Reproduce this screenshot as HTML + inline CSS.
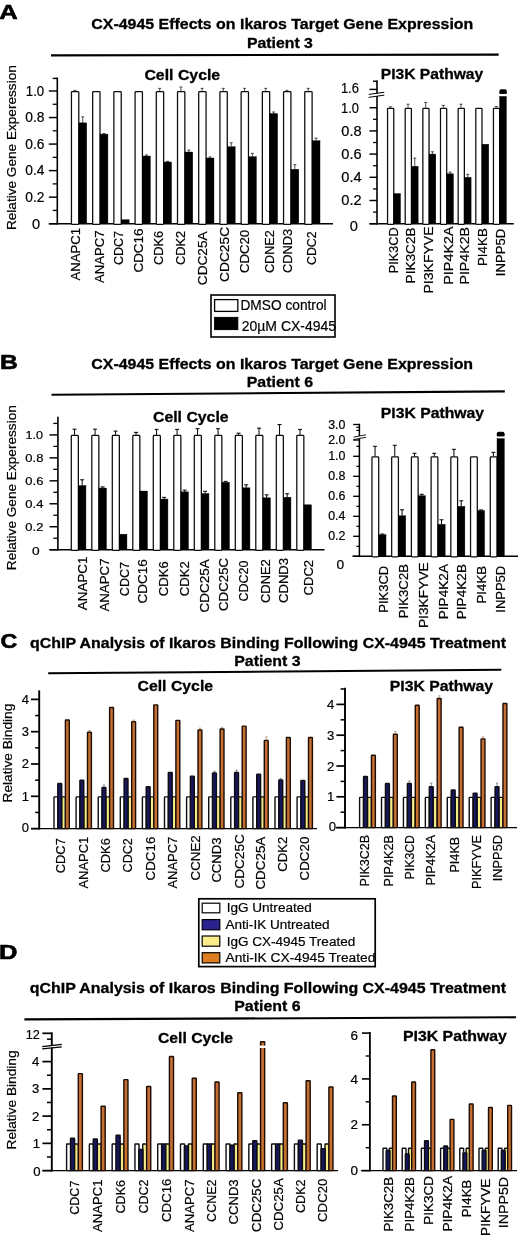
<!DOCTYPE html>
<html lang="en"><head><meta charset="utf-8"><title>CX-4945 Effects on Ikaros Target Gene Expression</title>
<style>
html,body{margin:0;padding:0;background:#fff;}
body{width:520px;height:1237px;overflow:hidden;}
svg{display:block;will-change:transform;}
svg text{font-family:'Liberation Sans', sans-serif;stroke:#000;stroke-width:0.2px;}
</style></head><body>
<svg width="520" height="1237" viewBox="0 0 520 1237">
<defs><filter id="soft" x="0" y="0" width="100%" height="100%" filterUnits="objectBoundingBox"><feGaussianBlur stdDeviation="0.45"/></filter></defs>
<g filter="url(#soft)">
<rect x="0" y="0" width="520" height="1237" fill="#fff"/>
<text x="-0.8" y="18.8" font-size="19.33" font-weight="bold" style="stroke-width:0.6px" textLength="18.47" lengthAdjust="spacingAndGlyphs" fill="#000">A</text>
<text x="-0.12" y="368.5" font-size="20.35" font-weight="bold" style="stroke-width:0.6px" textLength="17.83" lengthAdjust="spacingAndGlyphs" fill="#000">B</text>
<text x="0.6" y="648.2" font-size="20.64" font-weight="bold" style="stroke-width:0.6px" textLength="16.83" lengthAdjust="spacingAndGlyphs" fill="#000">C</text>
<text x="-1.02" y="959" font-size="20.35" font-weight="bold" style="stroke-width:0.6px" textLength="18.43" lengthAdjust="spacingAndGlyphs" fill="#000">D</text>
<text x="91.3" y="29.4" font-size="14.6" font-weight="bold" style="stroke-width:0.3px" textLength="381.98" lengthAdjust="spacingAndGlyphs" fill="#000">CX-4945 Effects on Ikaros Target Gene Expression</text>
<text x="246.95" y="48" font-size="14.9" font-weight="bold" style="stroke-width:0.3px" textLength="65.94" lengthAdjust="spacingAndGlyphs" fill="#000">Patient 3</text>
<line x1="51" y1="55.4" x2="498.7" y2="54.6" stroke="#000" stroke-width="2.1" stroke-linecap="butt"/>
<line x1="57.3" y1="77.6" x2="57.3" y2="224.5" stroke="#000" stroke-width="1.6" stroke-linecap="butt"/>
<line x1="48.8" y1="223.7" x2="57.3" y2="223.7" stroke="#000" stroke-width="1.44" stroke-linecap="butt"/>
<line x1="48.8" y1="197.16" x2="57.3" y2="197.16" stroke="#000" stroke-width="1.44" stroke-linecap="butt"/>
<line x1="48.8" y1="170.62" x2="57.3" y2="170.62" stroke="#000" stroke-width="1.44" stroke-linecap="butt"/>
<line x1="48.8" y1="144.08" x2="57.3" y2="144.08" stroke="#000" stroke-width="1.44" stroke-linecap="butt"/>
<line x1="48.8" y1="117.54" x2="57.3" y2="117.54" stroke="#000" stroke-width="1.44" stroke-linecap="butt"/>
<line x1="48.8" y1="91" x2="57.3" y2="91" stroke="#000" stroke-width="1.44" stroke-linecap="butt"/>
<line x1="52.7" y1="210.43" x2="57.3" y2="210.43" stroke="#000" stroke-width="1.28" stroke-linecap="butt"/>
<line x1="52.7" y1="183.89" x2="57.3" y2="183.89" stroke="#000" stroke-width="1.28" stroke-linecap="butt"/>
<line x1="52.7" y1="157.35" x2="57.3" y2="157.35" stroke="#000" stroke-width="1.28" stroke-linecap="butt"/>
<line x1="52.7" y1="130.81" x2="57.3" y2="130.81" stroke="#000" stroke-width="1.28" stroke-linecap="butt"/>
<line x1="52.7" y1="104.27" x2="57.3" y2="104.27" stroke="#000" stroke-width="1.28" stroke-linecap="butt"/>
<line x1="52.7" y1="78.4" x2="57.3" y2="78.4" stroke="#000" stroke-width="1.44" stroke-linecap="butt"/>
<line x1="49" y1="223.7" x2="333" y2="223.7" stroke="#000" stroke-width="1.4" stroke-linecap="butt"/>
<text x="32" y="228.5" font-size="13.95" textLength="8.16" lengthAdjust="spacingAndGlyphs" fill="#000">0</text>
<text x="25.3" y="201.96" font-size="13.95" textLength="19.16" lengthAdjust="spacingAndGlyphs" fill="#000">0.2</text>
<text x="25.3" y="175.42" font-size="13.95" textLength="19.16" lengthAdjust="spacingAndGlyphs" fill="#000">0.4</text>
<text x="25.3" y="148.88" font-size="13.95" textLength="19.16" lengthAdjust="spacingAndGlyphs" fill="#000">0.6</text>
<text x="25.3" y="122.34" font-size="13.95" textLength="19.16" lengthAdjust="spacingAndGlyphs" fill="#000">0.8</text>
<text x="25.8" y="95.8" font-size="13.95" textLength="18.35" lengthAdjust="spacingAndGlyphs" fill="#000">1.0</text>
<text transform="translate(15.94 230.1) rotate(-90) scale(1 0.97)" font-size="13.6" textLength="164.9" lengthAdjust="spacingAndGlyphs">Relative Gene Experession</text>
<text x="144.4" y="80.2" font-size="15.1" font-weight="bold" style="stroke-width:0.3px" textLength="75.8" lengthAdjust="spacingAndGlyphs" fill="#000">Cell Cycle</text>
<line x1="74.85" y1="90.34" x2="74.85" y2="91" stroke="#222" stroke-width="0.8" stroke-linecap="butt"/>
<line x1="73.35" y1="90.34" x2="76.35" y2="90.34" stroke="#222" stroke-width="0.8" stroke-linecap="butt"/>
<line x1="82.75" y1="116.88" x2="82.75" y2="122.85" stroke="#222" stroke-width="0.8" stroke-linecap="butt"/>
<line x1="81.25" y1="116.88" x2="84.25" y2="116.88" stroke="#222" stroke-width="0.8" stroke-linecap="butt"/>
<rect x="71.45" y="91.55" width="7.35" height="132.75" rx="0.8" fill="#fff" stroke="#0a0a0a" stroke-width="1.25"/>
<rect x="78.8" y="122.85" width="7.9" height="100.85" fill="#000" stroke="#000" stroke-width="0.4"/>
<line x1="103.96" y1="133.46" x2="103.96" y2="134.13" stroke="#222" stroke-width="0.8" stroke-linecap="butt"/>
<line x1="102.46" y1="133.46" x2="105.46" y2="133.46" stroke="#222" stroke-width="0.8" stroke-linecap="butt"/>
<rect x="92.66" y="91.55" width="7.35" height="132.75" rx="0.8" fill="#fff" stroke="#0a0a0a" stroke-width="1.25"/>
<rect x="100.01" y="134.13" width="7.9" height="89.57" fill="#000" stroke="#000" stroke-width="0.4"/>
<rect x="113.87" y="91.55" width="7.35" height="132.75" rx="0.8" fill="#fff" stroke="#0a0a0a" stroke-width="1.25"/>
<rect x="121.22" y="219.72" width="7.9" height="3.98" fill="#000" stroke="#000" stroke-width="0.4"/>
<line x1="146.38" y1="154.96" x2="146.38" y2="156.02" stroke="#222" stroke-width="0.8" stroke-linecap="butt"/>
<line x1="144.88" y1="154.96" x2="147.88" y2="154.96" stroke="#222" stroke-width="0.8" stroke-linecap="butt"/>
<rect x="135.08" y="91.55" width="7.35" height="132.75" rx="0.8" fill="#fff" stroke="#0a0a0a" stroke-width="1.25"/>
<rect x="142.43" y="156.02" width="7.9" height="67.68" fill="#000" stroke="#000" stroke-width="0.4"/>
<line x1="159.69" y1="88.35" x2="159.69" y2="91" stroke="#222" stroke-width="0.8" stroke-linecap="butt"/>
<line x1="158.19" y1="88.35" x2="161.19" y2="88.35" stroke="#222" stroke-width="0.8" stroke-linecap="butt"/>
<line x1="167.59" y1="161.33" x2="167.59" y2="161.99" stroke="#222" stroke-width="0.8" stroke-linecap="butt"/>
<line x1="166.09" y1="161.33" x2="169.09" y2="161.33" stroke="#222" stroke-width="0.8" stroke-linecap="butt"/>
<rect x="156.29" y="91.55" width="7.35" height="132.75" rx="0.8" fill="#fff" stroke="#0a0a0a" stroke-width="1.25"/>
<rect x="163.64" y="161.99" width="7.9" height="61.71" fill="#000" stroke="#000" stroke-width="0.4"/>
<line x1="180.9" y1="87.02" x2="180.9" y2="91" stroke="#222" stroke-width="0.8" stroke-linecap="butt"/>
<line x1="179.4" y1="87.02" x2="182.4" y2="87.02" stroke="#222" stroke-width="0.8" stroke-linecap="butt"/>
<line x1="188.8" y1="150.05" x2="188.8" y2="152.04" stroke="#222" stroke-width="0.8" stroke-linecap="butt"/>
<line x1="187.3" y1="150.05" x2="190.3" y2="150.05" stroke="#222" stroke-width="0.8" stroke-linecap="butt"/>
<rect x="177.5" y="91.55" width="7.35" height="132.75" rx="0.8" fill="#fff" stroke="#0a0a0a" stroke-width="1.25"/>
<rect x="184.85" y="152.04" width="7.9" height="71.66" fill="#000" stroke="#000" stroke-width="0.4"/>
<line x1="202.11" y1="88.35" x2="202.11" y2="91" stroke="#222" stroke-width="0.8" stroke-linecap="butt"/>
<line x1="200.61" y1="88.35" x2="203.61" y2="88.35" stroke="#222" stroke-width="0.8" stroke-linecap="butt"/>
<line x1="210.01" y1="156.95" x2="210.01" y2="158.01" stroke="#222" stroke-width="0.8" stroke-linecap="butt"/>
<line x1="208.51" y1="156.95" x2="211.51" y2="156.95" stroke="#222" stroke-width="0.8" stroke-linecap="butt"/>
<rect x="198.71" y="91.55" width="7.35" height="132.75" rx="0.8" fill="#fff" stroke="#0a0a0a" stroke-width="1.25"/>
<rect x="206.06" y="158.01" width="7.9" height="65.69" fill="#000" stroke="#000" stroke-width="0.4"/>
<line x1="223.32" y1="88.35" x2="223.32" y2="91" stroke="#222" stroke-width="0.8" stroke-linecap="butt"/>
<line x1="221.82" y1="88.35" x2="224.82" y2="88.35" stroke="#222" stroke-width="0.8" stroke-linecap="butt"/>
<line x1="231.22" y1="142.75" x2="231.22" y2="146.73" stroke="#222" stroke-width="0.8" stroke-linecap="butt"/>
<line x1="229.72" y1="142.75" x2="232.72" y2="142.75" stroke="#222" stroke-width="0.8" stroke-linecap="butt"/>
<rect x="219.92" y="91.55" width="7.35" height="132.75" rx="0.8" fill="#fff" stroke="#0a0a0a" stroke-width="1.25"/>
<rect x="227.27" y="146.73" width="7.9" height="76.97" fill="#000" stroke="#000" stroke-width="0.4"/>
<line x1="244.53" y1="88.35" x2="244.53" y2="91" stroke="#222" stroke-width="0.8" stroke-linecap="butt"/>
<line x1="243.03" y1="88.35" x2="246.03" y2="88.35" stroke="#222" stroke-width="0.8" stroke-linecap="butt"/>
<line x1="252.43" y1="153.37" x2="252.43" y2="156.69" stroke="#222" stroke-width="0.8" stroke-linecap="butt"/>
<line x1="250.93" y1="153.37" x2="253.93" y2="153.37" stroke="#222" stroke-width="0.8" stroke-linecap="butt"/>
<rect x="241.13" y="91.55" width="7.35" height="132.75" rx="0.8" fill="#fff" stroke="#0a0a0a" stroke-width="1.25"/>
<rect x="248.48" y="156.69" width="7.9" height="67.01" fill="#000" stroke="#000" stroke-width="0.4"/>
<line x1="265.74" y1="88.35" x2="265.74" y2="91" stroke="#222" stroke-width="0.8" stroke-linecap="butt"/>
<line x1="264.24" y1="88.35" x2="267.24" y2="88.35" stroke="#222" stroke-width="0.8" stroke-linecap="butt"/>
<line x1="273.64" y1="111.97" x2="273.64" y2="113.56" stroke="#222" stroke-width="0.8" stroke-linecap="butt"/>
<line x1="272.14" y1="111.97" x2="275.14" y2="111.97" stroke="#222" stroke-width="0.8" stroke-linecap="butt"/>
<rect x="262.34" y="91.55" width="7.35" height="132.75" rx="0.8" fill="#fff" stroke="#0a0a0a" stroke-width="1.25"/>
<rect x="269.69" y="113.56" width="7.9" height="110.14" fill="#000" stroke="#000" stroke-width="0.4"/>
<line x1="286.95" y1="90.34" x2="286.95" y2="91" stroke="#222" stroke-width="0.8" stroke-linecap="butt"/>
<line x1="285.45" y1="90.34" x2="288.45" y2="90.34" stroke="#222" stroke-width="0.8" stroke-linecap="butt"/>
<line x1="294.85" y1="164.65" x2="294.85" y2="169.29" stroke="#222" stroke-width="0.8" stroke-linecap="butt"/>
<line x1="293.35" y1="164.65" x2="296.35" y2="164.65" stroke="#222" stroke-width="0.8" stroke-linecap="butt"/>
<rect x="283.55" y="91.55" width="7.35" height="132.75" rx="0.8" fill="#fff" stroke="#0a0a0a" stroke-width="1.25"/>
<rect x="290.9" y="169.29" width="7.9" height="54.41" fill="#000" stroke="#000" stroke-width="0.4"/>
<line x1="308.16" y1="88.35" x2="308.16" y2="91" stroke="#222" stroke-width="0.8" stroke-linecap="butt"/>
<line x1="306.66" y1="88.35" x2="309.66" y2="88.35" stroke="#222" stroke-width="0.8" stroke-linecap="butt"/>
<line x1="316.06" y1="138.11" x2="316.06" y2="140.76" stroke="#222" stroke-width="0.8" stroke-linecap="butt"/>
<line x1="314.56" y1="138.11" x2="317.56" y2="138.11" stroke="#222" stroke-width="0.8" stroke-linecap="butt"/>
<rect x="304.76" y="91.55" width="7.35" height="132.75" rx="0.8" fill="#fff" stroke="#0a0a0a" stroke-width="1.25"/>
<rect x="312.11" y="140.76" width="7.9" height="82.94" fill="#000" stroke="#000" stroke-width="0.4"/>
<text transform="translate(80.39 280.4) rotate(-90) scale(1 1.04)" font-size="13.1" textLength="52.4" lengthAdjust="spacingAndGlyphs">ANAPC1</text>
<text transform="translate(104.09 282.9) rotate(-90) scale(1 1.04)" font-size="13.1" textLength="52.5" lengthAdjust="spacingAndGlyphs">ANAPC7</text>
<text transform="translate(122.99 265.1) rotate(-90) scale(1 1.04)" font-size="13.1" textLength="34.2" lengthAdjust="spacingAndGlyphs">CDC7</text>
<text transform="translate(142.69 272.6) rotate(-90) scale(1 1.04)" font-size="13.1" textLength="44.2" lengthAdjust="spacingAndGlyphs">CDC16</text>
<text transform="translate(162.69 265.1) rotate(-90) scale(1 1.04)" font-size="13.1" textLength="34.2" lengthAdjust="spacingAndGlyphs">CDK6</text>
<text transform="translate(185.19 265.1) rotate(-90) scale(1 1.04)" font-size="13.1" textLength="34.2" lengthAdjust="spacingAndGlyphs">CDK2</text>
<text transform="translate(207.49 285.2) rotate(-90) scale(1 1.04)" font-size="13.1" textLength="53.8" lengthAdjust="spacingAndGlyphs">CDC25A</text>
<text transform="translate(228.99 282) rotate(-90) scale(1 1.04)" font-size="13.1" textLength="55.1" lengthAdjust="spacingAndGlyphs">CDC25C</text>
<text transform="translate(249.49 273.1) rotate(-90) scale(1 1.04)" font-size="13.1" textLength="43.3" lengthAdjust="spacingAndGlyphs">CDC20</text>
<text transform="translate(273.69 273.1) rotate(-90) scale(1 1.04)" font-size="13.1" textLength="42.9" lengthAdjust="spacingAndGlyphs">CDNE2</text>
<text transform="translate(291.99 273.1) rotate(-90) scale(1 1.04)" font-size="13.1" textLength="44.3" lengthAdjust="spacingAndGlyphs">CDND3</text>
<text transform="translate(315.69 265) rotate(-90) scale(1 1.04)" font-size="13.1" textLength="33.6" lengthAdjust="spacingAndGlyphs">CDC2</text>
<line x1="377" y1="80.4" x2="377" y2="224.5" stroke="#000" stroke-width="1.6" stroke-linecap="butt"/>
<line x1="369.5" y1="223.7" x2="377" y2="223.7" stroke="#000" stroke-width="1.44" stroke-linecap="butt"/>
<line x1="369.5" y1="200.5" x2="377" y2="200.5" stroke="#000" stroke-width="1.44" stroke-linecap="butt"/>
<line x1="369.5" y1="177.3" x2="377" y2="177.3" stroke="#000" stroke-width="1.44" stroke-linecap="butt"/>
<line x1="369.5" y1="154.1" x2="377" y2="154.1" stroke="#000" stroke-width="1.44" stroke-linecap="butt"/>
<line x1="369.5" y1="130.9" x2="377" y2="130.9" stroke="#000" stroke-width="1.44" stroke-linecap="butt"/>
<line x1="369.5" y1="107.7" x2="377" y2="107.7" stroke="#000" stroke-width="1.44" stroke-linecap="butt"/>
<line x1="369.5" y1="89.4" x2="377" y2="89.4" stroke="#000" stroke-width="1.44" stroke-linecap="butt"/>
<line x1="373" y1="212.1" x2="377" y2="212.1" stroke="#000" stroke-width="1.28" stroke-linecap="butt"/>
<line x1="373" y1="188.9" x2="377" y2="188.9" stroke="#000" stroke-width="1.28" stroke-linecap="butt"/>
<line x1="373" y1="165.7" x2="377" y2="165.7" stroke="#000" stroke-width="1.28" stroke-linecap="butt"/>
<line x1="373" y1="142.5" x2="377" y2="142.5" stroke="#000" stroke-width="1.28" stroke-linecap="butt"/>
<line x1="373" y1="119.3" x2="377" y2="119.3" stroke="#000" stroke-width="1.28" stroke-linecap="butt"/>
<line x1="373" y1="81.2" x2="377" y2="81.2" stroke="#000" stroke-width="1.44" stroke-linecap="butt"/>
<line x1="369.5" y1="223.7" x2="513.8" y2="223.7" stroke="#000" stroke-width="1.4" stroke-linecap="butt"/>
<rect x="374.5" y="93.55" width="4" height="2.5" fill="#fff"/>
<line x1="368.7" y1="94.45" x2="384.3" y2="92.25" stroke="#000" stroke-width="1" stroke-linecap="butt"/>
<line x1="368.7" y1="97.35" x2="384.3" y2="95.15" stroke="#000" stroke-width="1" stroke-linecap="butt"/>
<text x="349.89" y="230.6" font-size="14.24" textLength="8.18" lengthAdjust="spacingAndGlyphs" fill="#000">0</text>
<text x="341.29" y="205.4" font-size="14.24" textLength="20.28" lengthAdjust="spacingAndGlyphs" fill="#000">0.2</text>
<text x="341.29" y="182.2" font-size="14.24" textLength="20.28" lengthAdjust="spacingAndGlyphs" fill="#000">0.4</text>
<text x="341.29" y="159" font-size="14.24" textLength="20.28" lengthAdjust="spacingAndGlyphs" fill="#000">0.6</text>
<text x="341.29" y="135.8" font-size="14.24" textLength="20.28" lengthAdjust="spacingAndGlyphs" fill="#000">0.8</text>
<text x="341.08" y="112.6" font-size="14.24" textLength="17.89" lengthAdjust="spacingAndGlyphs" fill="#000">1.0</text>
<text x="340.9" y="93.2" font-size="13.95" textLength="18.05" lengthAdjust="spacingAndGlyphs" fill="#000">1.6</text>
<text x="380.75" y="79.2" font-size="15.1" font-weight="bold" style="stroke-width:0.3px" textLength="102.46" lengthAdjust="spacingAndGlyphs" fill="#000">PI3K Pathway</text>
<line x1="390.38" y1="106.77" x2="390.38" y2="107.7" stroke="#222" stroke-width="0.8" stroke-linecap="butt"/>
<line x1="388.88" y1="106.77" x2="391.88" y2="106.77" stroke="#222" stroke-width="0.8" stroke-linecap="butt"/>
<rect x="387.55" y="108.25" width="6.2" height="116.05" rx="0.8" fill="#fff" stroke="#0a0a0a" stroke-width="1.25"/>
<rect x="393.75" y="193.54" width="6.75" height="30.16" fill="#000" stroke="#000" stroke-width="0.4"/>
<line x1="408.02" y1="104.22" x2="408.02" y2="107.7" stroke="#222" stroke-width="0.8" stroke-linecap="butt"/>
<line x1="406.52" y1="104.22" x2="409.52" y2="104.22" stroke="#222" stroke-width="0.8" stroke-linecap="butt"/>
<line x1="414.77" y1="158.16" x2="414.77" y2="166.28" stroke="#222" stroke-width="0.8" stroke-linecap="butt"/>
<line x1="413.27" y1="158.16" x2="416.27" y2="158.16" stroke="#222" stroke-width="0.8" stroke-linecap="butt"/>
<rect x="405.2" y="108.25" width="6.2" height="116.05" rx="0.8" fill="#fff" stroke="#0a0a0a" stroke-width="1.25"/>
<rect x="411.4" y="166.28" width="6.75" height="57.42" fill="#000" stroke="#000" stroke-width="0.4"/>
<line x1="425.68" y1="102.48" x2="425.68" y2="107.7" stroke="#222" stroke-width="0.8" stroke-linecap="butt"/>
<line x1="424.18" y1="102.48" x2="427.18" y2="102.48" stroke="#222" stroke-width="0.8" stroke-linecap="butt"/>
<line x1="432.43" y1="151.78" x2="432.43" y2="154.1" stroke="#222" stroke-width="0.8" stroke-linecap="butt"/>
<line x1="430.93" y1="151.78" x2="433.93" y2="151.78" stroke="#222" stroke-width="0.8" stroke-linecap="butt"/>
<rect x="422.85" y="108.25" width="6.2" height="116.05" rx="0.8" fill="#fff" stroke="#0a0a0a" stroke-width="1.25"/>
<rect x="429.05" y="154.1" width="6.75" height="69.6" fill="#000" stroke="#000" stroke-width="0.4"/>
<line x1="443.32" y1="105.38" x2="443.32" y2="107.7" stroke="#222" stroke-width="0.8" stroke-linecap="butt"/>
<line x1="441.82" y1="105.38" x2="444.82" y2="105.38" stroke="#222" stroke-width="0.8" stroke-linecap="butt"/>
<line x1="450.07" y1="172.08" x2="450.07" y2="173.82" stroke="#222" stroke-width="0.8" stroke-linecap="butt"/>
<line x1="448.57" y1="172.08" x2="451.57" y2="172.08" stroke="#222" stroke-width="0.8" stroke-linecap="butt"/>
<rect x="440.5" y="108.25" width="6.2" height="116.05" rx="0.8" fill="#fff" stroke="#0a0a0a" stroke-width="1.25"/>
<rect x="446.7" y="173.82" width="6.75" height="49.88" fill="#000" stroke="#000" stroke-width="0.4"/>
<line x1="460.98" y1="104.22" x2="460.98" y2="107.7" stroke="#222" stroke-width="0.8" stroke-linecap="butt"/>
<line x1="459.48" y1="104.22" x2="462.48" y2="104.22" stroke="#222" stroke-width="0.8" stroke-linecap="butt"/>
<line x1="467.73" y1="174.4" x2="467.73" y2="177.3" stroke="#222" stroke-width="0.8" stroke-linecap="butt"/>
<line x1="466.23" y1="174.4" x2="469.23" y2="174.4" stroke="#222" stroke-width="0.8" stroke-linecap="butt"/>
<rect x="458.15" y="108.25" width="6.2" height="116.05" rx="0.8" fill="#fff" stroke="#0a0a0a" stroke-width="1.25"/>
<rect x="464.35" y="177.3" width="6.75" height="46.4" fill="#000" stroke="#000" stroke-width="0.4"/>
<rect x="475.8" y="108.25" width="6.2" height="116.05" rx="0.8" fill="#fff" stroke="#0a0a0a" stroke-width="1.25"/>
<rect x="482" y="144.24" width="6.75" height="79.46" fill="#000" stroke="#000" stroke-width="0.4"/>
<line x1="496.27" y1="106.54" x2="496.27" y2="107.7" stroke="#222" stroke-width="0.8" stroke-linecap="butt"/>
<line x1="494.77" y1="106.54" x2="497.77" y2="106.54" stroke="#222" stroke-width="0.8" stroke-linecap="butt"/>
<rect x="493.45" y="108.25" width="6.2" height="116.05" rx="0.8" fill="#fff" stroke="#0a0a0a" stroke-width="1.25"/>
<rect x="499.65" y="96.4" width="6.75" height="127.3" fill="#000" stroke="#000" stroke-width="0.4"/>
<rect x="499.5" y="89.3" width="7.2" height="4.5" rx="1.6" fill="#000"/>
<rect x="499.5" y="91.5" width="7.2" height="2.3" fill="#000"/>
<text transform="translate(398.19 273.3) rotate(-90) scale(1 1.04)" font-size="13.1" textLength="45.9" lengthAdjust="spacingAndGlyphs">PIK3CD</text>
<text transform="translate(414.69 283.4) rotate(-90) scale(1 1.04)" font-size="13.1" textLength="56" lengthAdjust="spacingAndGlyphs">PIK3C2B</text>
<text transform="translate(433.39 293.5) rotate(-90) scale(1 1.04)" font-size="13.1" textLength="67.1" lengthAdjust="spacingAndGlyphs">PI3KFYVE</text>
<text transform="translate(453.29 284.8) rotate(-90) scale(1 1.04)" font-size="13.1" textLength="58.4" lengthAdjust="spacingAndGlyphs">PIP4K2A</text>
<text transform="translate(469.19 284.6) rotate(-90) scale(1 1.04)" font-size="13.1" textLength="57.7" lengthAdjust="spacingAndGlyphs">PIP4K2B</text>
<text transform="translate(486.69 266.1) rotate(-90) scale(1 1.04)" font-size="13.1" textLength="37.9" lengthAdjust="spacingAndGlyphs">PI4KB</text>
<text transform="translate(504.89 276.2) rotate(-90) scale(1 1.04)" font-size="13.1" textLength="47.4" lengthAdjust="spacingAndGlyphs">INPP5D</text>
<rect x="211" y="295" width="124" height="42" fill="#fff" stroke="#000" stroke-width="1.6"/>
<rect x="214.6" y="299.6" width="23.2" height="11.8" fill="#fff" stroke="#000" stroke-width="1.3"/>
<rect x="214.6" y="317.4" width="23.2" height="12.2" fill="#000" stroke="#000" stroke-width="1"/>
<text x="240.47" y="310.3" font-size="14.53" textLength="86.11" lengthAdjust="spacingAndGlyphs" fill="#000">DMSO control</text>
<text x="241.69" y="331" font-size="14.24" textLength="94.48" lengthAdjust="spacingAndGlyphs" fill="#000">20µM CX-4945</text>
<text x="91.3" y="368.8" font-size="14.6" font-weight="bold" style="stroke-width:0.3px" textLength="381.78" lengthAdjust="spacingAndGlyphs" fill="#000">CX-4945 Effects on Ikaros Target Gene Expression</text>
<text x="246.75" y="387.1" font-size="14.9" font-weight="bold" style="stroke-width:0.3px" textLength="66.34" lengthAdjust="spacingAndGlyphs" fill="#000">Patient 6</text>
<line x1="51.5" y1="394.8" x2="504.8" y2="391.4" stroke="#000" stroke-width="2.1" stroke-linecap="butt"/>
<line x1="57.9" y1="416.7" x2="57.9" y2="550.5" stroke="#000" stroke-width="1.6" stroke-linecap="butt"/>
<line x1="49.5" y1="549.7" x2="57.9" y2="549.7" stroke="#000" stroke-width="1.44" stroke-linecap="butt"/>
<line x1="49.5" y1="526.74" x2="57.9" y2="526.74" stroke="#000" stroke-width="1.44" stroke-linecap="butt"/>
<line x1="49.5" y1="503.78" x2="57.9" y2="503.78" stroke="#000" stroke-width="1.44" stroke-linecap="butt"/>
<line x1="49.5" y1="480.82" x2="57.9" y2="480.82" stroke="#000" stroke-width="1.44" stroke-linecap="butt"/>
<line x1="49.5" y1="457.86" x2="57.9" y2="457.86" stroke="#000" stroke-width="1.44" stroke-linecap="butt"/>
<line x1="49.5" y1="434.9" x2="57.9" y2="434.9" stroke="#000" stroke-width="1.44" stroke-linecap="butt"/>
<line x1="53.3" y1="538.22" x2="57.9" y2="538.22" stroke="#000" stroke-width="1.28" stroke-linecap="butt"/>
<line x1="53.3" y1="515.26" x2="57.9" y2="515.26" stroke="#000" stroke-width="1.28" stroke-linecap="butt"/>
<line x1="53.3" y1="492.3" x2="57.9" y2="492.3" stroke="#000" stroke-width="1.28" stroke-linecap="butt"/>
<line x1="53.3" y1="469.34" x2="57.9" y2="469.34" stroke="#000" stroke-width="1.28" stroke-linecap="butt"/>
<line x1="53.3" y1="446.38" x2="57.9" y2="446.38" stroke="#000" stroke-width="1.28" stroke-linecap="butt"/>
<line x1="53.3" y1="423.42" x2="57.9" y2="423.42" stroke="#000" stroke-width="1.28" stroke-linecap="butt"/>
<line x1="49.5" y1="549.7" x2="324.5" y2="549.7" stroke="#000" stroke-width="1.4" stroke-linecap="butt"/>
<text x="32.11" y="555.3" font-size="11.8" textLength="7.66" lengthAdjust="spacingAndGlyphs" fill="#000">0</text>
<text x="25.31" y="530.74" font-size="11.8" textLength="18.06" lengthAdjust="spacingAndGlyphs" fill="#000">0.2</text>
<text x="25.31" y="507.78" font-size="11.8" textLength="18.06" lengthAdjust="spacingAndGlyphs" fill="#000">0.4</text>
<text x="25.31" y="484.82" font-size="11.8" textLength="18.06" lengthAdjust="spacingAndGlyphs" fill="#000">0.6</text>
<text x="25.31" y="461.86" font-size="11.8" textLength="18.06" lengthAdjust="spacingAndGlyphs" fill="#000">0.8</text>
<text x="25.42" y="438.9" font-size="11.8" textLength="17.55" lengthAdjust="spacingAndGlyphs" fill="#000">1.0</text>
<text transform="translate(15.94 570.2) rotate(-90) scale(1 0.97)" font-size="13.6" textLength="165" lengthAdjust="spacingAndGlyphs">Relative Gene Experession</text>
<text x="153" y="421.7" font-size="15.1" font-weight="bold" style="stroke-width:0.3px" textLength="75.6" lengthAdjust="spacingAndGlyphs" fill="#000">Cell Cycle</text>
<line x1="74.55" y1="429.16" x2="74.55" y2="434.9" stroke="#000" stroke-width="1" stroke-linecap="butt"/>
<line x1="72.55" y1="429.16" x2="76.55" y2="429.16" stroke="#000" stroke-width="1" stroke-linecap="butt"/>
<line x1="82.15" y1="479.79" x2="82.15" y2="485.53" stroke="#000" stroke-width="1" stroke-linecap="butt"/>
<line x1="80.15" y1="479.79" x2="84.15" y2="479.79" stroke="#000" stroke-width="1" stroke-linecap="butt"/>
<rect x="71.3" y="435.45" width="7.05" height="114.85" rx="0.8" fill="#fff" stroke="#0a0a0a" stroke-width="1.25"/>
<rect x="78.35" y="485.53" width="7.6" height="64.17" fill="#000" stroke="#000" stroke-width="0.4"/>
<line x1="95.05" y1="429.16" x2="95.05" y2="434.9" stroke="#000" stroke-width="1" stroke-linecap="butt"/>
<line x1="93.05" y1="429.16" x2="97.05" y2="429.16" stroke="#000" stroke-width="1" stroke-linecap="butt"/>
<line x1="102.65" y1="486.9" x2="102.65" y2="488.05" stroke="#000" stroke-width="1" stroke-linecap="butt"/>
<line x1="100.65" y1="486.9" x2="104.65" y2="486.9" stroke="#000" stroke-width="1" stroke-linecap="butt"/>
<rect x="91.8" y="435.45" width="7.05" height="114.85" rx="0.8" fill="#fff" stroke="#0a0a0a" stroke-width="1.25"/>
<rect x="98.85" y="488.05" width="7.6" height="61.65" fill="#000" stroke="#000" stroke-width="0.4"/>
<line x1="115.55" y1="431.11" x2="115.55" y2="434.9" stroke="#000" stroke-width="1" stroke-linecap="butt"/>
<line x1="113.55" y1="431.11" x2="117.55" y2="431.11" stroke="#000" stroke-width="1" stroke-linecap="butt"/>
<rect x="112.3" y="435.45" width="7.05" height="114.85" rx="0.8" fill="#fff" stroke="#0a0a0a" stroke-width="1.25"/>
<rect x="119.35" y="534.2" width="7.6" height="15.5" fill="#000" stroke="#000" stroke-width="0.4"/>
<line x1="136.05" y1="432.37" x2="136.05" y2="434.9" stroke="#000" stroke-width="1" stroke-linecap="butt"/>
<line x1="134.05" y1="432.37" x2="138.05" y2="432.37" stroke="#000" stroke-width="1" stroke-linecap="butt"/>
<rect x="132.8" y="435.45" width="7.05" height="114.85" rx="0.8" fill="#fff" stroke="#0a0a0a" stroke-width="1.25"/>
<rect x="139.85" y="491.04" width="7.6" height="58.66" fill="#000" stroke="#000" stroke-width="0.4"/>
<line x1="156.55" y1="429.39" x2="156.55" y2="434.9" stroke="#000" stroke-width="1" stroke-linecap="butt"/>
<line x1="154.55" y1="429.39" x2="158.55" y2="429.39" stroke="#000" stroke-width="1" stroke-linecap="butt"/>
<line x1="164.15" y1="497.35" x2="164.15" y2="499.07" stroke="#000" stroke-width="1" stroke-linecap="butt"/>
<line x1="162.15" y1="497.35" x2="166.15" y2="497.35" stroke="#000" stroke-width="1" stroke-linecap="butt"/>
<rect x="153.3" y="435.45" width="7.05" height="114.85" rx="0.8" fill="#fff" stroke="#0a0a0a" stroke-width="1.25"/>
<rect x="160.35" y="499.07" width="7.6" height="50.63" fill="#000" stroke="#000" stroke-width="0.4"/>
<line x1="177.05" y1="429.39" x2="177.05" y2="434.9" stroke="#000" stroke-width="1" stroke-linecap="butt"/>
<line x1="175.05" y1="429.39" x2="179.05" y2="429.39" stroke="#000" stroke-width="1" stroke-linecap="butt"/>
<line x1="184.65" y1="490.12" x2="184.65" y2="491.84" stroke="#000" stroke-width="1" stroke-linecap="butt"/>
<line x1="182.65" y1="490.12" x2="186.65" y2="490.12" stroke="#000" stroke-width="1" stroke-linecap="butt"/>
<rect x="173.8" y="435.45" width="7.05" height="114.85" rx="0.8" fill="#fff" stroke="#0a0a0a" stroke-width="1.25"/>
<rect x="180.85" y="491.84" width="7.6" height="57.86" fill="#000" stroke="#000" stroke-width="0.4"/>
<line x1="197.55" y1="428.7" x2="197.55" y2="434.9" stroke="#000" stroke-width="1" stroke-linecap="butt"/>
<line x1="195.55" y1="428.7" x2="199.55" y2="428.7" stroke="#000" stroke-width="1" stroke-linecap="butt"/>
<line x1="205.15" y1="491.27" x2="205.15" y2="493.56" stroke="#000" stroke-width="1" stroke-linecap="butt"/>
<line x1="203.15" y1="491.27" x2="207.15" y2="491.27" stroke="#000" stroke-width="1" stroke-linecap="butt"/>
<rect x="194.3" y="435.45" width="7.05" height="114.85" rx="0.8" fill="#fff" stroke="#0a0a0a" stroke-width="1.25"/>
<rect x="201.35" y="493.56" width="7.6" height="56.14" fill="#000" stroke="#000" stroke-width="0.4"/>
<line x1="218.05" y1="428.7" x2="218.05" y2="434.9" stroke="#000" stroke-width="1" stroke-linecap="butt"/>
<line x1="216.05" y1="428.7" x2="220.05" y2="428.7" stroke="#000" stroke-width="1" stroke-linecap="butt"/>
<line x1="225.65" y1="481.39" x2="225.65" y2="482.31" stroke="#000" stroke-width="1" stroke-linecap="butt"/>
<line x1="223.65" y1="481.39" x2="227.65" y2="481.39" stroke="#000" stroke-width="1" stroke-linecap="butt"/>
<rect x="214.8" y="435.45" width="7.05" height="114.85" rx="0.8" fill="#fff" stroke="#0a0a0a" stroke-width="1.25"/>
<rect x="221.85" y="482.31" width="7.6" height="67.39" fill="#000" stroke="#000" stroke-width="0.4"/>
<line x1="238.55" y1="433.18" x2="238.55" y2="434.9" stroke="#000" stroke-width="1" stroke-linecap="butt"/>
<line x1="236.55" y1="433.18" x2="240.55" y2="433.18" stroke="#000" stroke-width="1" stroke-linecap="butt"/>
<line x1="246.15" y1="484.84" x2="246.15" y2="487.82" stroke="#000" stroke-width="1" stroke-linecap="butt"/>
<line x1="244.15" y1="484.84" x2="248.15" y2="484.84" stroke="#000" stroke-width="1" stroke-linecap="butt"/>
<rect x="235.3" y="435.45" width="7.05" height="114.85" rx="0.8" fill="#fff" stroke="#0a0a0a" stroke-width="1.25"/>
<rect x="242.35" y="487.82" width="7.6" height="61.88" fill="#000" stroke="#000" stroke-width="0.4"/>
<line x1="259.05" y1="428.13" x2="259.05" y2="434.9" stroke="#000" stroke-width="1" stroke-linecap="butt"/>
<line x1="257.05" y1="428.13" x2="261.05" y2="428.13" stroke="#000" stroke-width="1" stroke-linecap="butt"/>
<line x1="266.65" y1="494.83" x2="266.65" y2="497.81" stroke="#000" stroke-width="1" stroke-linecap="butt"/>
<line x1="264.65" y1="494.83" x2="268.65" y2="494.83" stroke="#000" stroke-width="1" stroke-linecap="butt"/>
<rect x="255.8" y="435.45" width="7.05" height="114.85" rx="0.8" fill="#fff" stroke="#0a0a0a" stroke-width="1.25"/>
<rect x="262.85" y="497.81" width="7.6" height="51.89" fill="#000" stroke="#000" stroke-width="0.4"/>
<line x1="279.55" y1="424.57" x2="279.55" y2="434.9" stroke="#000" stroke-width="1" stroke-linecap="butt"/>
<line x1="277.55" y1="424.57" x2="281.55" y2="424.57" stroke="#000" stroke-width="1" stroke-linecap="butt"/>
<line x1="287.15" y1="493.79" x2="287.15" y2="497.24" stroke="#000" stroke-width="1" stroke-linecap="butt"/>
<line x1="285.15" y1="493.79" x2="289.15" y2="493.79" stroke="#000" stroke-width="1" stroke-linecap="butt"/>
<rect x="276.3" y="435.45" width="7.05" height="114.85" rx="0.8" fill="#fff" stroke="#0a0a0a" stroke-width="1.25"/>
<rect x="283.35" y="497.24" width="7.6" height="52.46" fill="#000" stroke="#000" stroke-width="0.4"/>
<line x1="300.05" y1="429.39" x2="300.05" y2="434.9" stroke="#000" stroke-width="1" stroke-linecap="butt"/>
<line x1="298.05" y1="429.39" x2="302.05" y2="429.39" stroke="#000" stroke-width="1" stroke-linecap="butt"/>
<rect x="296.8" y="435.45" width="7.05" height="114.85" rx="0.8" fill="#fff" stroke="#0a0a0a" stroke-width="1.25"/>
<rect x="303.85" y="504.81" width="7.6" height="44.89" fill="#000" stroke="#000" stroke-width="0.4"/>
<text transform="translate(87.29 610.2) rotate(-90) scale(1 1.04)" font-size="13.1" textLength="53.7" lengthAdjust="spacingAndGlyphs">ANAPC1</text>
<text transform="translate(108.69 611.6) rotate(-90) scale(1 1.04)" font-size="13.1" textLength="53.2" lengthAdjust="spacingAndGlyphs">ANAPC7</text>
<text transform="translate(128.89 596.2) rotate(-90) scale(1 1.04)" font-size="13.1" textLength="34.3" lengthAdjust="spacingAndGlyphs">CDC7</text>
<text transform="translate(147.49 603.5) rotate(-90) scale(1 1.04)" font-size="13.1" textLength="44.3" lengthAdjust="spacingAndGlyphs">CDC16</text>
<text transform="translate(168.19 596.2) rotate(-90) scale(1 1.04)" font-size="13.1" textLength="35.1" lengthAdjust="spacingAndGlyphs">CDK6</text>
<text transform="translate(189.19 596.2) rotate(-90) scale(1 1.04)" font-size="13.1" textLength="35.1" lengthAdjust="spacingAndGlyphs">CDK2</text>
<text transform="translate(208.79 612.4) rotate(-90) scale(1 1.04)" font-size="13.1" textLength="53.2" lengthAdjust="spacingAndGlyphs">CDC25A</text>
<text transform="translate(228.49 611) rotate(-90) scale(1 1.04)" font-size="13.1" textLength="53.1" lengthAdjust="spacingAndGlyphs">CDC25C</text>
<text transform="translate(248.19 601.6) rotate(-90) scale(1 1.04)" font-size="13.1" textLength="41" lengthAdjust="spacingAndGlyphs">CDC20</text>
<text transform="translate(270.19 603) rotate(-90) scale(1 1.04)" font-size="13.1" textLength="43.8" lengthAdjust="spacingAndGlyphs">CDNE2</text>
<text transform="translate(288.49 603) rotate(-90) scale(1 1.04)" font-size="13.1" textLength="45.1" lengthAdjust="spacingAndGlyphs">CDND3</text>
<text transform="translate(313.19 595.4) rotate(-90) scale(1 1.04)" font-size="13.1" textLength="35.4" lengthAdjust="spacingAndGlyphs">CDC2</text>
<line x1="359.4" y1="423.75" x2="359.4" y2="557.05" stroke="#000" stroke-width="1.5" stroke-linecap="butt"/>
<line x1="353.1" y1="556.3" x2="359.4" y2="556.3" stroke="#000" stroke-width="1.35" stroke-linecap="butt"/>
<line x1="353.1" y1="536.3" x2="359.4" y2="536.3" stroke="#000" stroke-width="1.35" stroke-linecap="butt"/>
<line x1="353.1" y1="516.3" x2="359.4" y2="516.3" stroke="#000" stroke-width="1.35" stroke-linecap="butt"/>
<line x1="353.1" y1="496.3" x2="359.4" y2="496.3" stroke="#000" stroke-width="1.35" stroke-linecap="butt"/>
<line x1="353.1" y1="476.3" x2="359.4" y2="476.3" stroke="#000" stroke-width="1.35" stroke-linecap="butt"/>
<line x1="353.1" y1="456.3" x2="359.4" y2="456.3" stroke="#000" stroke-width="1.35" stroke-linecap="butt"/>
<line x1="353.1" y1="424.5" x2="359.4" y2="424.5" stroke="#000" stroke-width="1.35" stroke-linecap="butt"/>
<line x1="353.1" y1="440" x2="359.4" y2="440" stroke="#000" stroke-width="1.35" stroke-linecap="butt"/>
<line x1="356.3" y1="546.3" x2="359.4" y2="546.3" stroke="#000" stroke-width="1.2" stroke-linecap="butt"/>
<line x1="356.3" y1="526.3" x2="359.4" y2="526.3" stroke="#000" stroke-width="1.2" stroke-linecap="butt"/>
<line x1="356.3" y1="506.3" x2="359.4" y2="506.3" stroke="#000" stroke-width="1.2" stroke-linecap="butt"/>
<line x1="356.3" y1="486.3" x2="359.4" y2="486.3" stroke="#000" stroke-width="1.2" stroke-linecap="butt"/>
<line x1="356.3" y1="466.3" x2="359.4" y2="466.3" stroke="#000" stroke-width="1.2" stroke-linecap="butt"/>
<line x1="356.3" y1="446.3" x2="359.4" y2="446.3" stroke="#000" stroke-width="1.2" stroke-linecap="butt"/>
<line x1="356.3" y1="427.3" x2="359.4" y2="427.3" stroke="#000" stroke-width="1.2" stroke-linecap="butt"/>
<line x1="356.3" y1="430.4" x2="359.4" y2="430.4" stroke="#000" stroke-width="1.2" stroke-linecap="butt"/>
<line x1="352.5" y1="556.3" x2="518" y2="556.3" stroke="#000" stroke-width="1.4" stroke-linecap="butt"/>
<rect x="357.8" y="436.15" width="4" height="2.1" fill="#fff"/>
<line x1="353.6" y1="437.1" x2="366" y2="434.8" stroke="#000" stroke-width="0.9" stroke-linecap="butt"/>
<line x1="353.6" y1="439.6" x2="366" y2="437.3" stroke="#000" stroke-width="0.9" stroke-linecap="butt"/>
<text x="328.2" y="540.3" font-size="12" textLength="17.28" lengthAdjust="spacingAndGlyphs" fill="#000">0.2</text>
<text x="328.2" y="520.3" font-size="12" textLength="17.28" lengthAdjust="spacingAndGlyphs" fill="#000">0.4</text>
<text x="328.2" y="500.3" font-size="12" textLength="17.28" lengthAdjust="spacingAndGlyphs" fill="#000">0.6</text>
<text x="328.2" y="480.3" font-size="12" textLength="17.28" lengthAdjust="spacingAndGlyphs" fill="#000">0.8</text>
<text x="328.2" y="460.3" font-size="12" textLength="17.28" lengthAdjust="spacingAndGlyphs" fill="#000">1.0</text>
<text x="336.4" y="568.8" font-size="12" textLength="7.68" lengthAdjust="spacingAndGlyphs" fill="#000">0</text>
<text x="328.2" y="429.3" font-size="12" textLength="17.28" lengthAdjust="spacingAndGlyphs" fill="#000">3.0</text>
<text x="328.2" y="444.3" font-size="12" textLength="17.28" lengthAdjust="spacingAndGlyphs" fill="#000">2.0</text>
<text x="380.75" y="418.2" font-size="15.1" font-weight="bold" style="stroke-width:0.3px" textLength="103.36" lengthAdjust="spacingAndGlyphs" fill="#000">PI3K Pathway</text>
<line x1="375.05" y1="446.3" x2="375.05" y2="456.3" stroke="#000" stroke-width="1" stroke-linecap="butt"/>
<line x1="373.05" y1="446.3" x2="377.05" y2="446.3" stroke="#000" stroke-width="1" stroke-linecap="butt"/>
<line x1="382.35" y1="534" x2="382.35" y2="534.8" stroke="#000" stroke-width="1" stroke-linecap="butt"/>
<line x1="380.35" y1="534" x2="384.35" y2="534" stroke="#000" stroke-width="1" stroke-linecap="butt"/>
<rect x="371.95" y="456.85" width="6.75" height="100.05" rx="0.8" fill="#fff" stroke="#0a0a0a" stroke-width="1.25"/>
<rect x="378.7" y="534.8" width="7.3" height="21.5" fill="#000" stroke="#000" stroke-width="0.4"/>
<line x1="394.77" y1="445.3" x2="394.77" y2="456.3" stroke="#000" stroke-width="1" stroke-linecap="butt"/>
<line x1="392.77" y1="445.3" x2="396.77" y2="445.3" stroke="#000" stroke-width="1" stroke-linecap="butt"/>
<line x1="402.07" y1="509.8" x2="402.07" y2="515.8" stroke="#000" stroke-width="1" stroke-linecap="butt"/>
<line x1="400.07" y1="509.8" x2="404.07" y2="509.8" stroke="#000" stroke-width="1" stroke-linecap="butt"/>
<rect x="391.67" y="456.85" width="6.75" height="100.05" rx="0.8" fill="#fff" stroke="#0a0a0a" stroke-width="1.25"/>
<rect x="398.42" y="515.8" width="7.3" height="40.5" fill="#000" stroke="#000" stroke-width="0.4"/>
<line x1="414.49" y1="453.3" x2="414.49" y2="456.3" stroke="#000" stroke-width="1" stroke-linecap="butt"/>
<line x1="412.49" y1="453.3" x2="416.49" y2="453.3" stroke="#000" stroke-width="1" stroke-linecap="butt"/>
<line x1="421.79" y1="494.3" x2="421.79" y2="495.8" stroke="#000" stroke-width="1" stroke-linecap="butt"/>
<line x1="419.79" y1="494.3" x2="423.79" y2="494.3" stroke="#000" stroke-width="1" stroke-linecap="butt"/>
<rect x="411.39" y="456.85" width="6.75" height="100.05" rx="0.8" fill="#fff" stroke="#0a0a0a" stroke-width="1.25"/>
<rect x="418.14" y="495.8" width="7.3" height="60.5" fill="#000" stroke="#000" stroke-width="0.4"/>
<line x1="434.21" y1="453.3" x2="434.21" y2="456.3" stroke="#000" stroke-width="1" stroke-linecap="butt"/>
<line x1="432.21" y1="453.3" x2="436.21" y2="453.3" stroke="#000" stroke-width="1" stroke-linecap="butt"/>
<line x1="441.51" y1="519.8" x2="441.51" y2="524.3" stroke="#000" stroke-width="1" stroke-linecap="butt"/>
<line x1="439.51" y1="519.8" x2="443.51" y2="519.8" stroke="#000" stroke-width="1" stroke-linecap="butt"/>
<rect x="431.11" y="456.85" width="6.75" height="100.05" rx="0.8" fill="#fff" stroke="#0a0a0a" stroke-width="1.25"/>
<rect x="437.86" y="524.3" width="7.3" height="32" fill="#000" stroke="#000" stroke-width="0.4"/>
<line x1="453.93" y1="449.3" x2="453.93" y2="456.3" stroke="#000" stroke-width="1" stroke-linecap="butt"/>
<line x1="451.93" y1="449.3" x2="455.93" y2="449.3" stroke="#000" stroke-width="1" stroke-linecap="butt"/>
<line x1="461.23" y1="500.8" x2="461.23" y2="506.3" stroke="#000" stroke-width="1" stroke-linecap="butt"/>
<line x1="459.23" y1="500.8" x2="463.23" y2="500.8" stroke="#000" stroke-width="1" stroke-linecap="butt"/>
<rect x="450.83" y="456.85" width="6.75" height="100.05" rx="0.8" fill="#fff" stroke="#0a0a0a" stroke-width="1.25"/>
<rect x="457.58" y="506.3" width="7.3" height="50" fill="#000" stroke="#000" stroke-width="0.4"/>
<line x1="480.95" y1="509.9" x2="480.95" y2="510.5" stroke="#000" stroke-width="1" stroke-linecap="butt"/>
<line x1="478.95" y1="509.9" x2="482.95" y2="509.9" stroke="#000" stroke-width="1" stroke-linecap="butt"/>
<rect x="470.55" y="456.85" width="6.75" height="100.05" rx="0.8" fill="#fff" stroke="#0a0a0a" stroke-width="1.25"/>
<rect x="477.3" y="510.5" width="7.3" height="45.8" fill="#000" stroke="#000" stroke-width="0.4"/>
<line x1="493.37" y1="452.3" x2="493.37" y2="456.3" stroke="#000" stroke-width="1" stroke-linecap="butt"/>
<line x1="491.37" y1="452.3" x2="495.37" y2="452.3" stroke="#000" stroke-width="1" stroke-linecap="butt"/>
<rect x="490.27" y="456.85" width="6.75" height="100.05" rx="0.8" fill="#fff" stroke="#0a0a0a" stroke-width="1.25"/>
<rect x="497.02" y="438.6" width="7.3" height="117.7" fill="#000" stroke="#000" stroke-width="0.4"/>
<rect x="496.82" y="431.7" width="7.7" height="4.6" rx="1.8" fill="#000"/>
<rect x="496.82" y="434.0" width="7.7" height="2.3" fill="#000"/>
<text transform="translate(387.89 612.7) rotate(-90) scale(1 1.04)" font-size="13.1" textLength="46.9" lengthAdjust="spacingAndGlyphs">PIK3CD</text>
<text transform="translate(407.99 618.2) rotate(-90) scale(1 1.04)" font-size="13.1" textLength="54.2" lengthAdjust="spacingAndGlyphs">PIK3C2B</text>
<text transform="translate(428.09 628.1) rotate(-90) scale(1 1.04)" font-size="13.1" textLength="65.9" lengthAdjust="spacingAndGlyphs">PI3KFYVE</text>
<text transform="translate(447.69 619.3) rotate(-90) scale(1 1.04)" font-size="13.1" textLength="55.3" lengthAdjust="spacingAndGlyphs">PIP4K2A</text>
<text transform="translate(465.99 619.3) rotate(-90) scale(1 1.04)" font-size="13.1" textLength="55.3" lengthAdjust="spacingAndGlyphs">PIP4K2B</text>
<text transform="translate(486.49 603.6) rotate(-90) scale(1 1.04)" font-size="13.1" textLength="37.8" lengthAdjust="spacingAndGlyphs">PI4KB</text>
<text transform="translate(505.49 612.7) rotate(-90) scale(1 1.04)" font-size="13.1" textLength="46.9" lengthAdjust="spacingAndGlyphs">INPP5D</text>
<text x="30" y="647.8" font-size="14.1" font-weight="bold" style="stroke-width:0.3px" textLength="476.06" lengthAdjust="spacingAndGlyphs" fill="#000">qChIP Analysis of Ikaros Binding Following CX-4945 Treatment</text>
<text x="234.25" y="666.3" font-size="14.9" font-weight="bold" style="stroke-width:0.3px" textLength="66.34" lengthAdjust="spacingAndGlyphs" fill="#000">Patient 3</text>
<line x1="48.2" y1="673.3" x2="501.3" y2="669.8" stroke="#000" stroke-width="2.1" stroke-linecap="butt"/>
<line x1="39.2" y1="690.35" x2="39.2" y2="829.55" stroke="#000" stroke-width="1.9" stroke-linecap="butt"/>
<line x1="31" y1="828.6" x2="39.2" y2="828.6" stroke="#000" stroke-width="1.71" stroke-linecap="butt"/>
<line x1="31" y1="796.3" x2="39.2" y2="796.3" stroke="#000" stroke-width="1.71" stroke-linecap="butt"/>
<line x1="31" y1="764" x2="39.2" y2="764" stroke="#000" stroke-width="1.71" stroke-linecap="butt"/>
<line x1="31" y1="731.7" x2="39.2" y2="731.7" stroke="#000" stroke-width="1.71" stroke-linecap="butt"/>
<line x1="31" y1="699.4" x2="39.2" y2="699.4" stroke="#000" stroke-width="1.71" stroke-linecap="butt"/>
<line x1="35.2" y1="812.45" x2="39.2" y2="812.45" stroke="#000" stroke-width="1.52" stroke-linecap="butt"/>
<line x1="35.2" y1="780.15" x2="39.2" y2="780.15" stroke="#000" stroke-width="1.52" stroke-linecap="butt"/>
<line x1="35.2" y1="747.85" x2="39.2" y2="747.85" stroke="#000" stroke-width="1.52" stroke-linecap="butt"/>
<line x1="35.2" y1="715.55" x2="39.2" y2="715.55" stroke="#000" stroke-width="1.52" stroke-linecap="butt"/>
<line x1="31.3" y1="828.6" x2="317" y2="828.6" stroke="#000" stroke-width="1.4" stroke-linecap="butt"/>
<text x="21.67" y="832.17" font-size="13" textLength="7.23" lengthAdjust="spacingAndGlyphs">0</text>
<text x="21.67" y="800.77" font-size="13" textLength="7.23" lengthAdjust="spacingAndGlyphs">1</text>
<text x="21.67" y="768.47" font-size="13" textLength="7.23" lengthAdjust="spacingAndGlyphs">2</text>
<text x="21.67" y="736.17" font-size="13" textLength="7.23" lengthAdjust="spacingAndGlyphs">3</text>
<text x="21.67" y="703.87" font-size="13" textLength="7.23" lengthAdjust="spacingAndGlyphs">4</text>
<text transform="translate(12.41 802.4) rotate(-90) scale(1 1)" font-size="13.4" textLength="98.7" lengthAdjust="spacingAndGlyphs">Relative Binding</text>
<text x="137.5" y="691.2" font-size="15.1" font-weight="bold" style="stroke-width:0.3px" textLength="75.6" lengthAdjust="spacingAndGlyphs" fill="#000">Cell Cycle</text>
<rect x="54" y="796.9" width="3.9" height="31.7" rx="0.5" fill="#fff" stroke="#0c0c10" stroke-width="1.4"/>
<rect x="61.6" y="796.9" width="3.9" height="31.7" rx="0.5" fill="#f4ea86" stroke="#0c0c10" stroke-width="1.4"/>
<rect x="57.8" y="783.46" width="3.9" height="45.14" rx="0.5" fill="#18155a" stroke="#0c0c10" stroke-width="1.4"/>
<rect x="65.4" y="720.03" width="3.9" height="108.57" rx="0.5" fill="#c56f33" stroke="#1c0c04" stroke-width="1.4"/>
<line x1="89.45" y1="730.41" x2="89.45" y2="731.7" stroke="#a86" stroke-width="0.7" stroke-linecap="butt"/>
<line x1="88.25" y1="730.41" x2="90.65" y2="730.41" stroke="#a86" stroke-width="0.7" stroke-linecap="butt"/>
<rect x="76.1" y="796.9" width="3.9" height="31.7" rx="0.5" fill="#fff" stroke="#0c0c10" stroke-width="1.4"/>
<rect x="83.7" y="796.9" width="3.9" height="31.7" rx="0.5" fill="#f4ea86" stroke="#0c0c10" stroke-width="1.4"/>
<rect x="79.9" y="780.1" width="3.9" height="48.5" rx="0.5" fill="#18155a" stroke="#0c0c10" stroke-width="1.4"/>
<rect x="87.5" y="732.3" width="3.9" height="96.3" rx="0.5" fill="#c56f33" stroke="#1c0c04" stroke-width="1.4"/>
<line x1="103.95" y1="785" x2="103.95" y2="786.93" stroke="#667" stroke-width="0.7" stroke-linecap="butt"/>
<line x1="102.75" y1="785" x2="105.15" y2="785" stroke="#667" stroke-width="0.7" stroke-linecap="butt"/>
<rect x="98.2" y="796.9" width="3.9" height="31.7" rx="0.5" fill="#fff" stroke="#0c0c10" stroke-width="1.4"/>
<rect x="105.8" y="796.9" width="3.9" height="31.7" rx="0.5" fill="#f4ea86" stroke="#0c0c10" stroke-width="1.4"/>
<rect x="102" y="787.53" width="3.9" height="41.07" rx="0.5" fill="#18155a" stroke="#0c0c10" stroke-width="1.4"/>
<rect x="109.6" y="707.43" width="3.9" height="121.17" rx="0.5" fill="#c56f33" stroke="#1c0c04" stroke-width="1.4"/>
<line x1="133.65" y1="720.07" x2="133.65" y2="721.04" stroke="#a86" stroke-width="0.7" stroke-linecap="butt"/>
<line x1="132.45" y1="720.07" x2="134.85" y2="720.07" stroke="#a86" stroke-width="0.7" stroke-linecap="butt"/>
<rect x="120.3" y="796.9" width="3.9" height="31.7" rx="0.5" fill="#fff" stroke="#0c0c10" stroke-width="1.4"/>
<rect x="127.9" y="796.9" width="3.9" height="31.7" rx="0.5" fill="#f4ea86" stroke="#0c0c10" stroke-width="1.4"/>
<rect x="124.1" y="778.49" width="3.9" height="50.11" rx="0.5" fill="#18155a" stroke="#0c0c10" stroke-width="1.4"/>
<rect x="131.7" y="721.64" width="3.9" height="106.96" rx="0.5" fill="#c56f33" stroke="#1c0c04" stroke-width="1.4"/>
<rect x="142.4" y="796.9" width="3.9" height="31.7" rx="0.5" fill="#fff" stroke="#0c0c10" stroke-width="1.4"/>
<rect x="150" y="796.9" width="3.9" height="31.7" rx="0.5" fill="#f4ea86" stroke="#0c0c10" stroke-width="1.4"/>
<rect x="146.2" y="786.69" width="3.9" height="41.91" rx="0.5" fill="#18155a" stroke="#0c0c10" stroke-width="1.4"/>
<rect x="153.8" y="704.85" width="3.9" height="123.76" rx="0.5" fill="#c56f33" stroke="#1c0c04" stroke-width="1.4"/>
<rect x="164.5" y="796.9" width="3.9" height="31.7" rx="0.5" fill="#fff" stroke="#0c0c10" stroke-width="1.4"/>
<rect x="172.1" y="796.9" width="3.9" height="31.7" rx="0.5" fill="#f4ea86" stroke="#0c0c10" stroke-width="1.4"/>
<rect x="168.3" y="772.45" width="3.9" height="56.15" rx="0.5" fill="#18155a" stroke="#0c0c10" stroke-width="1.4"/>
<rect x="175.9" y="720.35" width="3.9" height="108.25" rx="0.5" fill="#c56f33" stroke="#1c0c04" stroke-width="1.4"/>
<line x1="199.95" y1="728.15" x2="199.95" y2="729.44" stroke="#a86" stroke-width="0.7" stroke-linecap="butt"/>
<line x1="198.75" y1="728.15" x2="201.15" y2="728.15" stroke="#a86" stroke-width="0.7" stroke-linecap="butt"/>
<rect x="186.6" y="796.9" width="3.9" height="31.7" rx="0.5" fill="#fff" stroke="#0c0c10" stroke-width="1.4"/>
<rect x="194.2" y="796.9" width="3.9" height="31.7" rx="0.5" fill="#f4ea86" stroke="#0c0c10" stroke-width="1.4"/>
<rect x="190.4" y="776.23" width="3.9" height="52.37" rx="0.5" fill="#18155a" stroke="#0c0c10" stroke-width="1.4"/>
<rect x="198" y="730.04" width="3.9" height="98.56" rx="0.5" fill="#c56f33" stroke="#1c0c04" stroke-width="1.4"/>
<line x1="214.45" y1="771.11" x2="214.45" y2="772.4" stroke="#667" stroke-width="0.7" stroke-linecap="butt"/>
<line x1="213.25" y1="771.11" x2="215.65" y2="771.11" stroke="#667" stroke-width="0.7" stroke-linecap="butt"/>
<line x1="222.05" y1="727.18" x2="222.05" y2="728.47" stroke="#a86" stroke-width="0.7" stroke-linecap="butt"/>
<line x1="220.85" y1="727.18" x2="223.25" y2="727.18" stroke="#a86" stroke-width="0.7" stroke-linecap="butt"/>
<rect x="208.7" y="796.9" width="3.9" height="31.7" rx="0.5" fill="#fff" stroke="#0c0c10" stroke-width="1.4"/>
<rect x="216.3" y="796.9" width="3.9" height="31.7" rx="0.5" fill="#f4ea86" stroke="#0c0c10" stroke-width="1.4"/>
<rect x="212.5" y="773" width="3.9" height="55.6" rx="0.5" fill="#18155a" stroke="#0c0c10" stroke-width="1.4"/>
<rect x="220.1" y="729.07" width="3.9" height="99.53" rx="0.5" fill="#c56f33" stroke="#1c0c04" stroke-width="1.4"/>
<line x1="236.55" y1="770.23" x2="236.55" y2="771.85" stroke="#667" stroke-width="0.7" stroke-linecap="butt"/>
<line x1="235.35" y1="770.23" x2="237.75" y2="770.23" stroke="#667" stroke-width="0.7" stroke-linecap="butt"/>
<rect x="230.8" y="796.9" width="3.9" height="31.7" rx="0.5" fill="#fff" stroke="#0c0c10" stroke-width="1.4"/>
<rect x="238.4" y="796.9" width="3.9" height="31.7" rx="0.5" fill="#f4ea86" stroke="#0c0c10" stroke-width="1.4"/>
<rect x="234.6" y="772.45" width="3.9" height="56.15" rx="0.5" fill="#18155a" stroke="#0c0c10" stroke-width="1.4"/>
<rect x="242.2" y="726.16" width="3.9" height="102.44" rx="0.5" fill="#c56f33" stroke="#1c0c04" stroke-width="1.4"/>
<line x1="266.25" y1="736.87" x2="266.25" y2="739.78" stroke="#a86" stroke-width="0.7" stroke-linecap="butt"/>
<line x1="265.05" y1="736.87" x2="267.45" y2="736.87" stroke="#a86" stroke-width="0.7" stroke-linecap="butt"/>
<rect x="252.9" y="796.9" width="3.9" height="31.7" rx="0.5" fill="#fff" stroke="#0c0c10" stroke-width="1.4"/>
<rect x="260.5" y="796.9" width="3.9" height="31.7" rx="0.5" fill="#f4ea86" stroke="#0c0c10" stroke-width="1.4"/>
<rect x="256.7" y="774.29" width="3.9" height="54.31" rx="0.5" fill="#18155a" stroke="#0c0c10" stroke-width="1.4"/>
<rect x="264.3" y="740.38" width="3.9" height="88.22" rx="0.5" fill="#c56f33" stroke="#1c0c04" stroke-width="1.4"/>
<line x1="280.75" y1="778.37" x2="280.75" y2="779.34" stroke="#667" stroke-width="0.7" stroke-linecap="butt"/>
<line x1="279.55" y1="778.37" x2="281.95" y2="778.37" stroke="#667" stroke-width="0.7" stroke-linecap="butt"/>
<rect x="275" y="796.9" width="3.9" height="31.7" rx="0.5" fill="#fff" stroke="#0c0c10" stroke-width="1.4"/>
<rect x="282.6" y="796.9" width="3.9" height="31.7" rx="0.5" fill="#f4ea86" stroke="#0c0c10" stroke-width="1.4"/>
<rect x="278.8" y="779.94" width="3.9" height="48.66" rx="0.5" fill="#18155a" stroke="#0c0c10" stroke-width="1.4"/>
<rect x="286.4" y="737.47" width="3.9" height="91.13" rx="0.5" fill="#c56f33" stroke="#1c0c04" stroke-width="1.4"/>
<rect x="297.1" y="796.9" width="3.9" height="31.7" rx="0.5" fill="#fff" stroke="#0c0c10" stroke-width="1.4"/>
<rect x="304.7" y="796.9" width="3.9" height="31.7" rx="0.5" fill="#f4ea86" stroke="#0c0c10" stroke-width="1.4"/>
<rect x="300.9" y="780.43" width="3.9" height="48.17" rx="0.5" fill="#18155a" stroke="#0c0c10" stroke-width="1.4"/>
<rect x="308.5" y="737.47" width="3.9" height="91.13" rx="0.5" fill="#c56f33" stroke="#1c0c04" stroke-width="1.4"/>
<text transform="translate(65.29 873.3) rotate(-90) scale(1 1.04)" font-size="13.1" textLength="35.1" lengthAdjust="spacingAndGlyphs">CDC7</text>
<text transform="translate(87.79 888.6) rotate(-90) scale(1 1.04)" font-size="13.1" textLength="51.9" lengthAdjust="spacingAndGlyphs">ANAPC1</text>
<text transform="translate(110.09 872.4) rotate(-90) scale(1 1.04)" font-size="13.1" textLength="34.2" lengthAdjust="spacingAndGlyphs">CDK6</text>
<text transform="translate(132.39 872.4) rotate(-90) scale(1 1.04)" font-size="13.1" textLength="34.2" lengthAdjust="spacingAndGlyphs">CDC2</text>
<text transform="translate(155.09 880.4) rotate(-90) scale(1 1.04)" font-size="13.1" textLength="43.7" lengthAdjust="spacingAndGlyphs">CDC16</text>
<text transform="translate(176.69 888.6) rotate(-90) scale(1 1.04)" font-size="13.1" textLength="51.9" lengthAdjust="spacingAndGlyphs">ANAPC7</text>
<text transform="translate(200.09 880.4) rotate(-90) scale(1 1.04)" font-size="13.1" textLength="45.2" lengthAdjust="spacingAndGlyphs">CCNE2</text>
<text transform="translate(220.89 882.6) rotate(-90) scale(1 1.04)" font-size="13.1" textLength="45.2" lengthAdjust="spacingAndGlyphs">CCND3</text>
<text transform="translate(243.99 888.6) rotate(-90) scale(1 1.04)" font-size="13.1" textLength="54.4" lengthAdjust="spacingAndGlyphs">CDC25C</text>
<text transform="translate(264.69 889.6) rotate(-90) scale(1 1.04)" font-size="13.1" textLength="52.9" lengthAdjust="spacingAndGlyphs">CDC25A</text>
<text transform="translate(287.09 871.8) rotate(-90) scale(1 1.04)" font-size="13.1" textLength="35.1" lengthAdjust="spacingAndGlyphs">CDK2</text>
<text transform="translate(308.99 880.4) rotate(-90) scale(1 1.04)" font-size="13.1" textLength="43.7" lengthAdjust="spacingAndGlyphs">CDC20</text>
<line x1="345" y1="687.85" x2="345" y2="828.55" stroke="#000" stroke-width="1.9" stroke-linecap="butt"/>
<line x1="336.4" y1="827.6" x2="345" y2="827.6" stroke="#000" stroke-width="1.71" stroke-linecap="butt"/>
<line x1="336.4" y1="796.8" x2="345" y2="796.8" stroke="#000" stroke-width="1.71" stroke-linecap="butt"/>
<line x1="336.4" y1="766" x2="345" y2="766" stroke="#000" stroke-width="1.71" stroke-linecap="butt"/>
<line x1="336.4" y1="735.2" x2="345" y2="735.2" stroke="#000" stroke-width="1.71" stroke-linecap="butt"/>
<line x1="336.4" y1="704.4" x2="345" y2="704.4" stroke="#000" stroke-width="1.71" stroke-linecap="butt"/>
<line x1="340.6" y1="812.2" x2="345" y2="812.2" stroke="#000" stroke-width="1.52" stroke-linecap="butt"/>
<line x1="340.6" y1="781.4" x2="345" y2="781.4" stroke="#000" stroke-width="1.52" stroke-linecap="butt"/>
<line x1="340.6" y1="750.6" x2="345" y2="750.6" stroke="#000" stroke-width="1.52" stroke-linecap="butt"/>
<line x1="340.6" y1="719.8" x2="345" y2="719.8" stroke="#000" stroke-width="1.52" stroke-linecap="butt"/>
<line x1="340.6" y1="689" x2="345" y2="689" stroke="#000" stroke-width="1.52" stroke-linecap="butt"/>
<line x1="336" y1="827.6" x2="517" y2="827.6" stroke="#000" stroke-width="1.4" stroke-linecap="butt"/>
<text x="328.76" y="830.94" font-size="13.2" textLength="7.34" lengthAdjust="spacingAndGlyphs">0</text>
<text x="327.06" y="801.34" font-size="13.2" textLength="7.34" lengthAdjust="spacingAndGlyphs">1</text>
<text x="327.06" y="770.54" font-size="13.2" textLength="7.34" lengthAdjust="spacingAndGlyphs">2</text>
<text x="327.06" y="739.74" font-size="13.2" textLength="7.34" lengthAdjust="spacingAndGlyphs">3</text>
<text x="327.06" y="708.94" font-size="13.2" textLength="7.34" lengthAdjust="spacingAndGlyphs">4</text>
<text x="389.75" y="690.6" font-size="15.1" font-weight="bold" style="stroke-width:0.3px" textLength="103.36" lengthAdjust="spacingAndGlyphs" fill="#000">PI3K Pathway</text>
<rect x="359.6" y="797.4" width="3.9" height="30.2" rx="0.5" fill="#fff" stroke="#0c0c10" stroke-width="1.4"/>
<rect x="367.5" y="797.4" width="3.9" height="30.2" rx="0.5" fill="#f4ea86" stroke="#0c0c10" stroke-width="1.4"/>
<rect x="363.55" y="776.46" width="3.9" height="51.14" rx="0.5" fill="#18155a" stroke="#0c0c10" stroke-width="1.4"/>
<rect x="371.45" y="755.2" width="3.9" height="72.4" rx="0.5" fill="#c56f33" stroke="#1c0c04" stroke-width="1.4"/>
<line x1="395.32" y1="731.5" x2="395.32" y2="733.66" stroke="#a86" stroke-width="0.7" stroke-linecap="butt"/>
<line x1="394.12" y1="731.5" x2="396.52" y2="731.5" stroke="#a86" stroke-width="0.7" stroke-linecap="butt"/>
<rect x="381.52" y="797.4" width="3.9" height="30.2" rx="0.5" fill="#fff" stroke="#0c0c10" stroke-width="1.4"/>
<rect x="389.42" y="797.4" width="3.9" height="30.2" rx="0.5" fill="#f4ea86" stroke="#0c0c10" stroke-width="1.4"/>
<rect x="385.47" y="783.39" width="3.9" height="44.21" rx="0.5" fill="#18155a" stroke="#0c0c10" stroke-width="1.4"/>
<rect x="393.37" y="734.26" width="3.9" height="93.34" rx="0.5" fill="#c56f33" stroke="#1c0c04" stroke-width="1.4"/>
<line x1="409.34" y1="780.94" x2="409.34" y2="782.79" stroke="#667" stroke-width="0.7" stroke-linecap="butt"/>
<line x1="408.14" y1="780.94" x2="410.54" y2="780.94" stroke="#667" stroke-width="0.7" stroke-linecap="butt"/>
<rect x="403.44" y="797.4" width="3.9" height="30.2" rx="0.5" fill="#fff" stroke="#0c0c10" stroke-width="1.4"/>
<rect x="411.34" y="797.4" width="3.9" height="30.2" rx="0.5" fill="#f4ea86" stroke="#0c0c10" stroke-width="1.4"/>
<rect x="407.39" y="783.39" width="3.9" height="44.21" rx="0.5" fill="#18155a" stroke="#0c0c10" stroke-width="1.4"/>
<rect x="415.29" y="705.31" width="3.9" height="122.29" rx="0.5" fill="#c56f33" stroke="#1c0c04" stroke-width="1.4"/>
<line x1="431.26" y1="783.09" x2="431.26" y2="786.17" stroke="#667" stroke-width="0.7" stroke-linecap="butt"/>
<line x1="430.06" y1="783.09" x2="432.46" y2="783.09" stroke="#667" stroke-width="0.7" stroke-linecap="butt"/>
<line x1="439.16" y1="695.78" x2="439.16" y2="697.93" stroke="#a86" stroke-width="0.7" stroke-linecap="butt"/>
<line x1="437.96" y1="695.78" x2="440.36" y2="695.78" stroke="#a86" stroke-width="0.7" stroke-linecap="butt"/>
<rect x="425.36" y="797.4" width="3.9" height="30.2" rx="0.5" fill="#fff" stroke="#0c0c10" stroke-width="1.4"/>
<rect x="433.26" y="797.4" width="3.9" height="30.2" rx="0.5" fill="#f4ea86" stroke="#0c0c10" stroke-width="1.4"/>
<rect x="429.31" y="786.77" width="3.9" height="40.83" rx="0.5" fill="#18155a" stroke="#0c0c10" stroke-width="1.4"/>
<rect x="437.21" y="698.53" width="3.9" height="129.07" rx="0.5" fill="#c56f33" stroke="#1c0c04" stroke-width="1.4"/>
<rect x="447.28" y="797.4" width="3.9" height="30.2" rx="0.5" fill="#fff" stroke="#0c0c10" stroke-width="1.4"/>
<rect x="455.18" y="797.4" width="3.9" height="30.2" rx="0.5" fill="#f4ea86" stroke="#0c0c10" stroke-width="1.4"/>
<rect x="451.23" y="790.01" width="3.9" height="37.59" rx="0.5" fill="#18155a" stroke="#0c0c10" stroke-width="1.4"/>
<rect x="459.13" y="727.18" width="3.9" height="100.42" rx="0.5" fill="#c56f33" stroke="#1c0c04" stroke-width="1.4"/>
<line x1="483" y1="736.74" x2="483" y2="738.28" stroke="#a86" stroke-width="0.7" stroke-linecap="butt"/>
<line x1="481.8" y1="736.74" x2="484.2" y2="736.74" stroke="#a86" stroke-width="0.7" stroke-linecap="butt"/>
<rect x="469.2" y="797.4" width="3.9" height="30.2" rx="0.5" fill="#fff" stroke="#0c0c10" stroke-width="1.4"/>
<rect x="477.1" y="797.4" width="3.9" height="30.2" rx="0.5" fill="#f4ea86" stroke="#0c0c10" stroke-width="1.4"/>
<rect x="473.15" y="793.09" width="3.9" height="34.51" rx="0.5" fill="#18155a" stroke="#0c0c10" stroke-width="1.4"/>
<rect x="481.05" y="738.88" width="3.9" height="88.72" rx="0.5" fill="#c56f33" stroke="#1c0c04" stroke-width="1.4"/>
<line x1="497.02" y1="783.09" x2="497.02" y2="786.17" stroke="#667" stroke-width="0.7" stroke-linecap="butt"/>
<line x1="495.82" y1="783.09" x2="498.22" y2="783.09" stroke="#667" stroke-width="0.7" stroke-linecap="butt"/>
<rect x="491.12" y="797.4" width="3.9" height="30.2" rx="0.5" fill="#fff" stroke="#0c0c10" stroke-width="1.4"/>
<rect x="499.02" y="797.4" width="3.9" height="30.2" rx="0.5" fill="#f4ea86" stroke="#0c0c10" stroke-width="1.4"/>
<rect x="495.07" y="786.77" width="3.9" height="40.83" rx="0.5" fill="#18155a" stroke="#0c0c10" stroke-width="1.4"/>
<rect x="502.97" y="703.46" width="3.9" height="124.14" rx="0.5" fill="#c56f33" stroke="#1c0c04" stroke-width="1.4"/>
<text transform="translate(369.39 886.4) rotate(-90) scale(1 1.04)" font-size="13.1" textLength="51.4" lengthAdjust="spacingAndGlyphs">PIK3C2B</text>
<text transform="translate(392.69 886.4) rotate(-90) scale(1 1.04)" font-size="13.1" textLength="51.4" lengthAdjust="spacingAndGlyphs">PIP4K2B</text>
<text transform="translate(414.39 879.4) rotate(-90) scale(1 1.04)" font-size="13.1" textLength="44.4" lengthAdjust="spacingAndGlyphs">PIK3CD</text>
<text transform="translate(435.19 885.6) rotate(-90) scale(1 1.04)" font-size="13.1" textLength="50.6" lengthAdjust="spacingAndGlyphs">PIP4K2A</text>
<text transform="translate(459.39 872.6) rotate(-90) scale(1 1.04)" font-size="13.1" textLength="35.9" lengthAdjust="spacingAndGlyphs">PI4KB</text>
<text transform="translate(481.09 889.1) rotate(-90) scale(1 1.04)" font-size="13.1" textLength="54.1" lengthAdjust="spacingAndGlyphs">PIKFYVE</text>
<text transform="translate(501.89 881.2) rotate(-90) scale(1 1.04)" font-size="13.1" textLength="46.2" lengthAdjust="spacingAndGlyphs">INPP5D</text>
<rect x="198.8" y="898.8" width="176.4" height="67.8" fill="#fff" stroke="#000" stroke-width="1.7"/>
<rect x="202.2" y="903.2" width="17.6" height="9.6" fill="#fff" stroke="#000" stroke-width="1.2"/>
<rect x="202.2" y="919.6" width="17.6" height="10.2" fill="#2c2390" stroke="#000" stroke-width="1.2"/>
<rect x="202.2" y="936" width="17.6" height="10.2" fill="#fbee8a" stroke="#000" stroke-width="1.2"/>
<rect x="202.2" y="952.7" width="17.6" height="10.2" fill="#dc7d22" stroke="#000" stroke-width="1.2"/>
<text x="226.65" y="912" font-size="13.08" textLength="85.18" lengthAdjust="spacingAndGlyphs" fill="#000">IgG Untreated</text>
<text x="225.5" y="929.2" font-size="13.08" textLength="104.02" lengthAdjust="spacingAndGlyphs" fill="#000">Anti-IK Untreated</text>
<text x="226.65" y="945.5" font-size="13.08" textLength="128.58" lengthAdjust="spacingAndGlyphs" fill="#000">IgG CX-4945 Treated</text>
<text x="225.5" y="961.7" font-size="13.08" textLength="149.82" lengthAdjust="spacingAndGlyphs" fill="#000">Anti-IK CX-4945 Treated</text>
<text x="29.8" y="993.3" font-size="14.1" font-weight="bold" style="stroke-width:0.3px" textLength="476.26" lengthAdjust="spacingAndGlyphs" fill="#000">qChIP Analysis of Ikaros Binding Following CX-4945 Treatment</text>
<text x="234.25" y="1011.3" font-size="14.9" font-weight="bold" style="stroke-width:0.3px" textLength="66.34" lengthAdjust="spacingAndGlyphs" fill="#000">Patient 6</text>
<line x1="24.4" y1="1019.4" x2="516" y2="1017.3" stroke="#000" stroke-width="2.1" stroke-linecap="butt"/>
<line x1="51.8" y1="1032.35" x2="51.8" y2="1171.55" stroke="#000" stroke-width="1.9" stroke-linecap="butt"/>
<line x1="42.4" y1="1170.6" x2="51.8" y2="1170.6" stroke="#000" stroke-width="1.71" stroke-linecap="butt"/>
<line x1="42.4" y1="1143.35" x2="51.8" y2="1143.35" stroke="#000" stroke-width="1.71" stroke-linecap="butt"/>
<line x1="42.4" y1="1116.1" x2="51.8" y2="1116.1" stroke="#000" stroke-width="1.71" stroke-linecap="butt"/>
<line x1="42.4" y1="1088.85" x2="51.8" y2="1088.85" stroke="#000" stroke-width="1.71" stroke-linecap="butt"/>
<line x1="42.4" y1="1061.6" x2="51.8" y2="1061.6" stroke="#000" stroke-width="1.71" stroke-linecap="butt"/>
<line x1="42.4" y1="1033.3" x2="51.8" y2="1033.3" stroke="#000" stroke-width="1.71" stroke-linecap="butt"/>
<line x1="47" y1="1156.97" x2="51.8" y2="1156.97" stroke="#000" stroke-width="1.52" stroke-linecap="butt"/>
<line x1="47" y1="1129.72" x2="51.8" y2="1129.72" stroke="#000" stroke-width="1.52" stroke-linecap="butt"/>
<line x1="47" y1="1102.47" x2="51.8" y2="1102.47" stroke="#000" stroke-width="1.52" stroke-linecap="butt"/>
<line x1="47" y1="1075.22" x2="51.8" y2="1075.22" stroke="#000" stroke-width="1.52" stroke-linecap="butt"/>
<line x1="47" y1="1039.2" x2="51.8" y2="1039.2" stroke="#000" stroke-width="1.52" stroke-linecap="butt"/>
<line x1="42.5" y1="1170.6" x2="338" y2="1170.6" stroke="#000" stroke-width="1.4" stroke-linecap="butt"/>
<rect x="50" y="1045.7" width="4" height="2" fill="#fff"/>
<line x1="42.2" y1="1046.55" x2="61.8" y2="1044.45" stroke="#000" stroke-width="1.25" stroke-linecap="butt"/>
<line x1="42.2" y1="1048.95" x2="61.8" y2="1046.85" stroke="#000" stroke-width="1.25" stroke-linecap="butt"/>
<text x="33.16" y="1175.94" font-size="13.2" textLength="7.34" lengthAdjust="spacingAndGlyphs">0</text>
<text x="32.66" y="1147.89" font-size="13.2" textLength="7.34" lengthAdjust="spacingAndGlyphs">1</text>
<text x="32.06" y="1120.64" font-size="13.2" textLength="7.34" lengthAdjust="spacingAndGlyphs">2</text>
<text x="32.06" y="1093.39" font-size="13.2" textLength="7.34" lengthAdjust="spacingAndGlyphs">3</text>
<text x="32.06" y="1066.14" font-size="13.2" textLength="7.34" lengthAdjust="spacingAndGlyphs">4</text>
<text x="25.81" y="1039.44" font-size="13.2" textLength="14.09" lengthAdjust="spacingAndGlyphs">12</text>
<text transform="translate(15.51 1149.4) rotate(-90) scale(1 1)" font-size="13.4" textLength="99" lengthAdjust="spacingAndGlyphs">Relative Binding</text>
<text x="158" y="1042.6" font-size="15.1" font-weight="bold" style="stroke-width:0.3px" textLength="75.1" lengthAdjust="spacingAndGlyphs" fill="#000">Cell Cycle</text>
<rect x="66.6" y="1143.95" width="4.1" height="26.65" rx="0.5" fill="#fff" stroke="#0c0c10" stroke-width="1.4"/>
<rect x="74.4" y="1143.95" width="4.1" height="26.65" rx="0.5" fill="#f4ea86" stroke="#0c0c10" stroke-width="1.4"/>
<rect x="70.5" y="1138.23" width="4.1" height="32.37" rx="0.5" fill="#18155a" stroke="#0c0c10" stroke-width="1.4"/>
<rect x="78.3" y="1073.64" width="4.1" height="96.96" rx="0.5" fill="#c56f33" stroke="#1c0c04" stroke-width="1.4"/>
<rect x="89.38" y="1143.95" width="4.1" height="26.65" rx="0.5" fill="#fff" stroke="#0c0c10" stroke-width="1.4"/>
<rect x="97.18" y="1143.95" width="4.1" height="26.65" rx="0.5" fill="#f4ea86" stroke="#0c0c10" stroke-width="1.4"/>
<rect x="93.28" y="1139.05" width="4.1" height="31.55" rx="0.5" fill="#18155a" stroke="#0c0c10" stroke-width="1.4"/>
<rect x="101.08" y="1106.21" width="4.1" height="64.39" rx="0.5" fill="#c56f33" stroke="#1c0c04" stroke-width="1.4"/>
<rect x="112.16" y="1143.95" width="4.1" height="26.65" rx="0.5" fill="#fff" stroke="#0c0c10" stroke-width="1.4"/>
<rect x="119.96" y="1143.95" width="4.1" height="26.65" rx="0.5" fill="#f4ea86" stroke="#0c0c10" stroke-width="1.4"/>
<rect x="116.06" y="1135.23" width="4.1" height="35.37" rx="0.5" fill="#18155a" stroke="#0c0c10" stroke-width="1.4"/>
<rect x="123.86" y="1079.64" width="4.1" height="90.96" rx="0.5" fill="#c56f33" stroke="#1c0c04" stroke-width="1.4"/>
<rect x="134.94" y="1143.95" width="4.1" height="26.65" rx="0.5" fill="#fff" stroke="#0c0c10" stroke-width="1.4"/>
<rect x="142.74" y="1143.95" width="4.1" height="26.65" rx="0.5" fill="#f4ea86" stroke="#0c0c10" stroke-width="1.4"/>
<rect x="138.84" y="1149.4" width="4.1" height="21.2" rx="0.5" fill="#18155a" stroke="#0c0c10" stroke-width="1.4"/>
<rect x="146.64" y="1086.45" width="4.1" height="84.15" rx="0.5" fill="#c56f33" stroke="#1c0c04" stroke-width="1.4"/>
<rect x="157.72" y="1143.95" width="4.1" height="26.65" rx="0.5" fill="#fff" stroke="#0c0c10" stroke-width="1.4"/>
<rect x="165.52" y="1143.95" width="4.1" height="26.65" rx="0.5" fill="#f4ea86" stroke="#0c0c10" stroke-width="1.4"/>
<rect x="161.62" y="1143.95" width="4.1" height="26.65" rx="0.5" fill="#18155a" stroke="#0c0c10" stroke-width="1.4"/>
<rect x="169.42" y="1056.48" width="4.1" height="114.12" rx="0.5" fill="#c56f33" stroke="#1c0c04" stroke-width="1.4"/>
<rect x="180.5" y="1143.95" width="4.1" height="26.65" rx="0.5" fill="#fff" stroke="#0c0c10" stroke-width="1.4"/>
<rect x="188.3" y="1143.95" width="4.1" height="26.65" rx="0.5" fill="#f4ea86" stroke="#0c0c10" stroke-width="1.4"/>
<rect x="184.4" y="1145.86" width="4.1" height="24.74" rx="0.5" fill="#18155a" stroke="#0c0c10" stroke-width="1.4"/>
<rect x="192.2" y="1078.28" width="4.1" height="92.32" rx="0.5" fill="#c56f33" stroke="#1c0c04" stroke-width="1.4"/>
<rect x="203.28" y="1143.95" width="4.1" height="26.65" rx="0.5" fill="#fff" stroke="#0c0c10" stroke-width="1.4"/>
<rect x="211.08" y="1143.95" width="4.1" height="26.65" rx="0.5" fill="#f4ea86" stroke="#0c0c10" stroke-width="1.4"/>
<rect x="207.18" y="1143.95" width="4.1" height="26.65" rx="0.5" fill="#18155a" stroke="#0c0c10" stroke-width="1.4"/>
<rect x="214.98" y="1081.96" width="4.1" height="88.64" rx="0.5" fill="#c56f33" stroke="#1c0c04" stroke-width="1.4"/>
<rect x="226.06" y="1143.95" width="4.1" height="26.65" rx="0.5" fill="#fff" stroke="#0c0c10" stroke-width="1.4"/>
<rect x="233.86" y="1143.95" width="4.1" height="26.65" rx="0.5" fill="#f4ea86" stroke="#0c0c10" stroke-width="1.4"/>
<rect x="229.96" y="1145.31" width="4.1" height="25.29" rx="0.5" fill="#18155a" stroke="#0c0c10" stroke-width="1.4"/>
<rect x="237.76" y="1092.72" width="4.1" height="77.88" rx="0.5" fill="#c56f33" stroke="#1c0c04" stroke-width="1.4"/>
<rect x="248.84" y="1143.95" width="4.1" height="26.65" rx="0.5" fill="#fff" stroke="#0c0c10" stroke-width="1.4"/>
<rect x="256.64" y="1143.95" width="4.1" height="26.65" rx="0.5" fill="#f4ea86" stroke="#0c0c10" stroke-width="1.4"/>
<rect x="252.74" y="1140.68" width="4.1" height="29.92" rx="0.5" fill="#18155a" stroke="#0c0c10" stroke-width="1.4"/>
<rect x="260.54" y="1041.76" width="4.1" height="128.84" rx="0.5" fill="#c56f33" stroke="#1c0c04" stroke-width="1.4"/>
<rect x="271.62" y="1143.95" width="4.1" height="26.65" rx="0.5" fill="#fff" stroke="#0c0c10" stroke-width="1.4"/>
<rect x="279.42" y="1143.95" width="4.1" height="26.65" rx="0.5" fill="#f4ea86" stroke="#0c0c10" stroke-width="1.4"/>
<rect x="275.52" y="1143.95" width="4.1" height="26.65" rx="0.5" fill="#18155a" stroke="#0c0c10" stroke-width="1.4"/>
<rect x="283.32" y="1102.8" width="4.1" height="67.8" rx="0.5" fill="#c56f33" stroke="#1c0c04" stroke-width="1.4"/>
<rect x="294.4" y="1143.95" width="4.1" height="26.65" rx="0.5" fill="#fff" stroke="#0c0c10" stroke-width="1.4"/>
<rect x="302.2" y="1143.95" width="4.1" height="26.65" rx="0.5" fill="#f4ea86" stroke="#0c0c10" stroke-width="1.4"/>
<rect x="298.3" y="1140.13" width="4.1" height="30.47" rx="0.5" fill="#18155a" stroke="#0c0c10" stroke-width="1.4"/>
<rect x="306.1" y="1080.73" width="4.1" height="89.87" rx="0.5" fill="#c56f33" stroke="#1c0c04" stroke-width="1.4"/>
<rect x="317.18" y="1143.95" width="4.1" height="26.65" rx="0.5" fill="#fff" stroke="#0c0c10" stroke-width="1.4"/>
<rect x="324.98" y="1143.95" width="4.1" height="26.65" rx="0.5" fill="#f4ea86" stroke="#0c0c10" stroke-width="1.4"/>
<rect x="321.08" y="1148.58" width="4.1" height="22.02" rx="0.5" fill="#18155a" stroke="#0c0c10" stroke-width="1.4"/>
<rect x="328.88" y="1087" width="4.1" height="83.6" rx="0.5" fill="#c56f33" stroke="#1c0c04" stroke-width="1.4"/>
<rect x="259.34" y="1045.6" width="6.6" height="2.4" fill="#fff"/>
<text transform="translate(79.49 1214.8) rotate(-90) scale(1 1.04)" font-size="13.1" textLength="34.2" lengthAdjust="spacingAndGlyphs">CDC7</text>
<text transform="translate(102.49 1231.9) rotate(-90) scale(1 1.04)" font-size="13.1" textLength="52.5" lengthAdjust="spacingAndGlyphs">ANAPC1</text>
<text transform="translate(125.49 1213.6) rotate(-90) scale(1 1.04)" font-size="13.1" textLength="33.7" lengthAdjust="spacingAndGlyphs">CDK6</text>
<text transform="translate(147.99 1213.6) rotate(-90) scale(1 1.04)" font-size="13.1" textLength="34.2" lengthAdjust="spacingAndGlyphs">CDC2</text>
<text transform="translate(170.69 1221.9) rotate(-90) scale(1 1.04)" font-size="13.1" textLength="43.2" lengthAdjust="spacingAndGlyphs">CDC16</text>
<text transform="translate(194.19 1231.9) rotate(-90) scale(1 1.04)" font-size="13.1" textLength="52.5" lengthAdjust="spacingAndGlyphs">ANAPC7</text>
<text transform="translate(215.99 1221.9) rotate(-90) scale(1 1.04)" font-size="13.1" textLength="42.5" lengthAdjust="spacingAndGlyphs">CCNE2</text>
<text transform="translate(237.79 1224.4) rotate(-90) scale(1 1.04)" font-size="13.1" textLength="45" lengthAdjust="spacingAndGlyphs">CCND3</text>
<text transform="translate(260.99 1231.9) rotate(-90) scale(1 1.04)" font-size="13.1" textLength="53.2" lengthAdjust="spacingAndGlyphs">CDC25C</text>
<text transform="translate(283.19 1230.6) rotate(-90) scale(1 1.04)" font-size="13.1" textLength="52.4" lengthAdjust="spacingAndGlyphs">CDC25A</text>
<text transform="translate(305.49 1213.1) rotate(-90) scale(1 1.04)" font-size="13.1" textLength="33.7" lengthAdjust="spacingAndGlyphs">CDK2</text>
<text transform="translate(327.19 1221.9) rotate(-90) scale(1 1.04)" font-size="13.1" textLength="43.2" lengthAdjust="spacingAndGlyphs">CDC20</text>
<line x1="369.9" y1="1032.1" x2="369.9" y2="1171.5" stroke="#000" stroke-width="1.8" stroke-linecap="butt"/>
<line x1="361.9" y1="1170.6" x2="369.9" y2="1170.6" stroke="#000" stroke-width="1.62" stroke-linecap="butt"/>
<line x1="361.9" y1="1124.76" x2="369.9" y2="1124.76" stroke="#000" stroke-width="1.62" stroke-linecap="butt"/>
<line x1="361.9" y1="1078.92" x2="369.9" y2="1078.92" stroke="#000" stroke-width="1.62" stroke-linecap="butt"/>
<line x1="361.9" y1="1033.08" x2="369.9" y2="1033.08" stroke="#000" stroke-width="1.62" stroke-linecap="butt"/>
<line x1="365.7" y1="1147.68" x2="369.9" y2="1147.68" stroke="#000" stroke-width="1.44" stroke-linecap="butt"/>
<line x1="365.7" y1="1101.84" x2="369.9" y2="1101.84" stroke="#000" stroke-width="1.44" stroke-linecap="butt"/>
<line x1="365.7" y1="1056" x2="369.9" y2="1056" stroke="#000" stroke-width="1.44" stroke-linecap="butt"/>
<line x1="361" y1="1170.6" x2="517" y2="1170.6" stroke="#000" stroke-width="1.4" stroke-linecap="butt"/>
<text x="350.39" y="1175.24" font-size="13.5" textLength="7.51" lengthAdjust="spacingAndGlyphs">0</text>
<text x="350.39" y="1129.4" font-size="13.5" textLength="7.51" lengthAdjust="spacingAndGlyphs">2</text>
<text x="350.39" y="1083.56" font-size="13.5" textLength="7.51" lengthAdjust="spacingAndGlyphs">4</text>
<text x="350.39" y="1040.22" font-size="13.5" textLength="7.51" lengthAdjust="spacingAndGlyphs">6</text>
<text x="402.94" y="1041.4" font-size="15.1" font-weight="bold" style="stroke-width:0.3px" textLength="103.96" lengthAdjust="spacingAndGlyphs" fill="#000">PI3K Pathway</text>
<rect x="383" y="1148.28" width="3.8" height="22.32" rx="0.5" fill="#fff" stroke="#0c0c10" stroke-width="1.4"/>
<rect x="389.34" y="1148.28" width="3.8" height="22.32" rx="0.5" fill="#f4ea86" stroke="#0c0c10" stroke-width="1.4"/>
<rect x="386.17" y="1150.57" width="3.8" height="20.03" rx="0.5" fill="#18155a" stroke="#0c0c10" stroke-width="1.4"/>
<rect x="392.51" y="1096.02" width="3.8" height="74.58" rx="0.5" fill="#c56f33" stroke="#1c0c04" stroke-width="1.4"/>
<rect x="402.2" y="1148.28" width="3.8" height="22.32" rx="0.5" fill="#fff" stroke="#0c0c10" stroke-width="1.4"/>
<rect x="408.54" y="1148.28" width="3.8" height="22.32" rx="0.5" fill="#f4ea86" stroke="#0c0c10" stroke-width="1.4"/>
<rect x="405.37" y="1154.01" width="3.8" height="16.59" rx="0.5" fill="#18155a" stroke="#0c0c10" stroke-width="1.4"/>
<rect x="411.71" y="1082.04" width="3.8" height="88.56" rx="0.5" fill="#c56f33" stroke="#1c0c04" stroke-width="1.4"/>
<rect x="421.4" y="1148.28" width="3.8" height="22.32" rx="0.5" fill="#fff" stroke="#0c0c10" stroke-width="1.4"/>
<rect x="427.74" y="1148.28" width="3.8" height="22.32" rx="0.5" fill="#f4ea86" stroke="#0c0c10" stroke-width="1.4"/>
<rect x="424.57" y="1140.72" width="3.8" height="29.88" rx="0.5" fill="#18155a" stroke="#0c0c10" stroke-width="1.4"/>
<rect x="430.91" y="1049.72" width="3.8" height="120.88" rx="0.5" fill="#c56f33" stroke="#1c0c04" stroke-width="1.4"/>
<rect x="440.6" y="1148.28" width="3.8" height="22.32" rx="0.5" fill="#fff" stroke="#0c0c10" stroke-width="1.4"/>
<rect x="446.94" y="1148.28" width="3.8" height="22.32" rx="0.5" fill="#f4ea86" stroke="#0c0c10" stroke-width="1.4"/>
<rect x="443.77" y="1145.99" width="3.8" height="24.61" rx="0.5" fill="#18155a" stroke="#0c0c10" stroke-width="1.4"/>
<rect x="450.11" y="1119.4" width="3.8" height="51.2" rx="0.5" fill="#c56f33" stroke="#1c0c04" stroke-width="1.4"/>
<rect x="459.8" y="1148.28" width="3.8" height="22.32" rx="0.5" fill="#fff" stroke="#0c0c10" stroke-width="1.4"/>
<rect x="466.14" y="1148.28" width="3.8" height="22.32" rx="0.5" fill="#f4ea86" stroke="#0c0c10" stroke-width="1.4"/>
<rect x="462.97" y="1152.86" width="3.8" height="17.74" rx="0.5" fill="#18155a" stroke="#0c0c10" stroke-width="1.4"/>
<rect x="469.31" y="1104.04" width="3.8" height="66.56" rx="0.5" fill="#c56f33" stroke="#1c0c04" stroke-width="1.4"/>
<rect x="479" y="1148.28" width="3.8" height="22.32" rx="0.5" fill="#fff" stroke="#0c0c10" stroke-width="1.4"/>
<rect x="485.34" y="1148.28" width="3.8" height="22.32" rx="0.5" fill="#f4ea86" stroke="#0c0c10" stroke-width="1.4"/>
<rect x="482.17" y="1150.57" width="3.8" height="20.03" rx="0.5" fill="#18155a" stroke="#0c0c10" stroke-width="1.4"/>
<rect x="488.51" y="1107.48" width="3.8" height="63.12" rx="0.5" fill="#c56f33" stroke="#1c0c04" stroke-width="1.4"/>
<rect x="498.2" y="1148.28" width="3.8" height="22.32" rx="0.5" fill="#fff" stroke="#0c0c10" stroke-width="1.4"/>
<rect x="504.54" y="1148.28" width="3.8" height="22.32" rx="0.5" fill="#f4ea86" stroke="#0c0c10" stroke-width="1.4"/>
<rect x="501.37" y="1150.57" width="3.8" height="20.03" rx="0.5" fill="#18155a" stroke="#0c0c10" stroke-width="1.4"/>
<rect x="507.71" y="1105.42" width="3.8" height="65.18" rx="0.5" fill="#c56f33" stroke="#1c0c04" stroke-width="1.4"/>
<text transform="translate(392.69 1231.6) rotate(-90) scale(1 1.04)" font-size="13.1" textLength="54.7" lengthAdjust="spacingAndGlyphs">PIK3C2B</text>
<text transform="translate(413.69 1231.6) rotate(-90) scale(1 1.04)" font-size="13.1" textLength="54.7" lengthAdjust="spacingAndGlyphs">PIP4K2B</text>
<text transform="translate(433.49 1224.8) rotate(-90) scale(1 1.04)" font-size="13.1" textLength="48.9" lengthAdjust="spacingAndGlyphs">PIK3CD</text>
<text transform="translate(452.49 1231.6) rotate(-90) scale(1 1.04)" font-size="13.1" textLength="55.7" lengthAdjust="spacingAndGlyphs">PIP4K2A</text>
<text transform="translate(470.69 1217.2) rotate(-90) scale(1 1.04)" font-size="13.1" textLength="37.5" lengthAdjust="spacingAndGlyphs">PI4KB</text>
<text transform="translate(489.59 1235.9) rotate(-90) scale(1 1.04)" font-size="13.1" textLength="57.3" lengthAdjust="spacingAndGlyphs">PIKFYVE</text>
<text transform="translate(507.69 1228.3) rotate(-90) scale(1 1.04)" font-size="13.1" textLength="51.4" lengthAdjust="spacingAndGlyphs">INPP5D</text>
</g>
</svg>
</body></html>
